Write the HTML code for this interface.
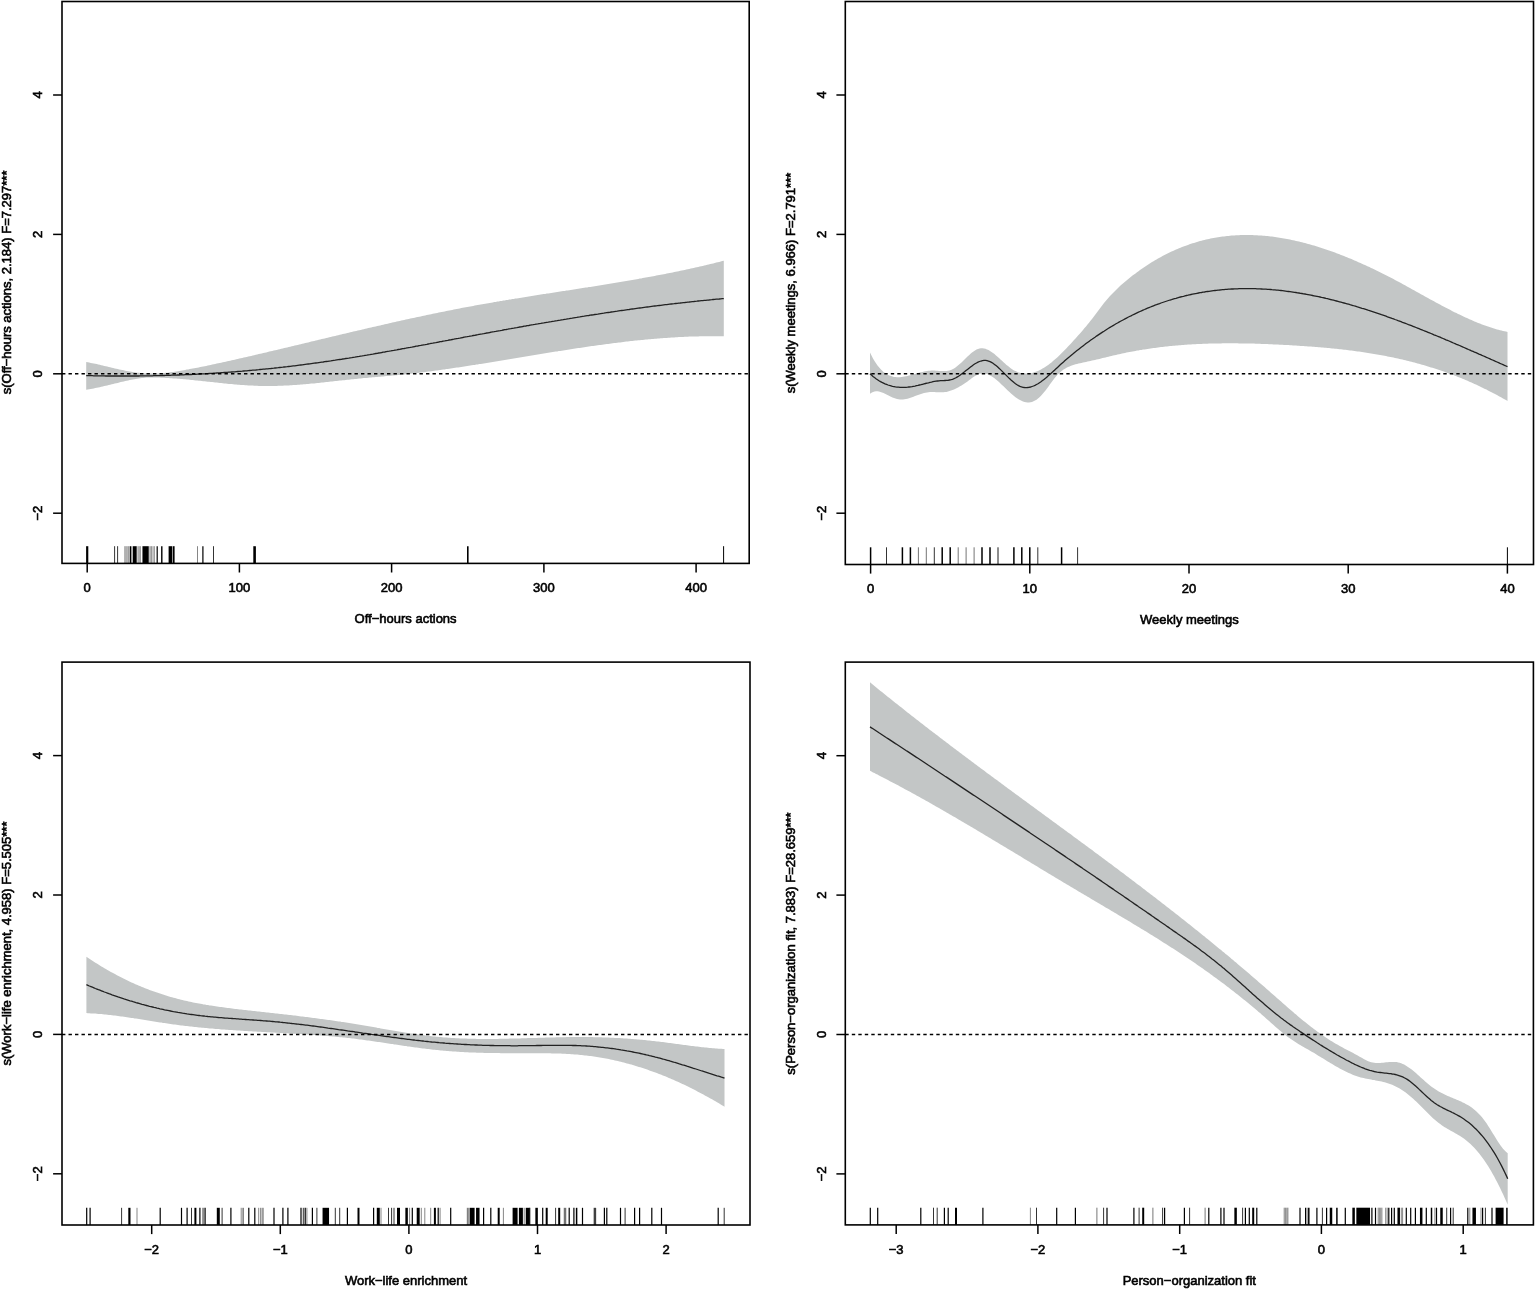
<!DOCTYPE html>
<html lang="en"><head><meta charset="utf-8"><title>GAM smooth plots</title>
<style>html,body{margin:0;padding:0;background:#fff}body{width:1535px;height:1291px;overflow:hidden}svg{display:block}</style></head>
<body>
<svg width="1535" height="1291" viewBox="0 0 1535 1291" font-family="'Liberation Sans', sans-serif" font-size="13.00" fill="#000">
<rect width="1535" height="1291" fill="#fff"/>
<style>text{stroke:#000;stroke-width:0.6px;paint-order:stroke}</style>
<g>
<path d="M86.2 362.0 L87.8 362.3 L89.2 362.6 L90.8 362.9 L92.2 363.2 L93.8 363.5 L95.2 363.8 L96.8 364.1 L98.2 364.5 L99.8 364.8 L101.2 365.2 L102.8 365.5 L104.2 365.9 L105.8 366.2 L107.2 366.6 L108.8 366.9 L110.2 367.3 L111.8 367.7 L113.2 368.0 L114.8 368.4 L116.2 368.7 L117.8 369.0 L119.2 369.4 L120.8 369.7 L122.2 370.0 L123.8 370.3 L125.2 370.7 L126.8 370.9 L128.2 371.2 L129.8 371.5 L131.2 371.8 L132.8 372.0 L134.2 372.2 L135.8 372.5 L137.2 372.7 L138.8 372.8 L140.2 373.0 L141.8 373.2 L143.2 373.3 L144.8 373.4 L146.2 373.5 L147.8 373.6 L149.2 373.6 L150.8 373.6 L152.2 373.6 L153.8 373.6 L155.2 373.6 L156.8 373.5 L158.2 373.4 L159.8 373.4 L161.2 373.2 L162.8 373.1 L164.2 373.0 L165.8 372.8 L167.2 372.7 L168.8 372.5 L170.2 372.3 L171.8 372.1 L173.2 371.9 L174.8 371.7 L176.2 371.4 L177.8 371.2 L179.2 370.9 L180.8 370.7 L182.2 370.4 L183.8 370.2 L185.2 369.9 L186.8 369.6 L188.2 369.4 L189.8 369.1 L191.2 368.8 L192.8 368.5 L194.2 368.2 L195.8 368.0 L197.2 367.7 L198.8 367.4 L200.2 367.1 L201.8 366.8 L203.2 366.5 L204.8 366.2 L206.2 365.9 L207.8 365.6 L209.2 365.2 L210.8 364.9 L212.2 364.6 L213.8 364.3 L215.2 364.0 L216.8 363.6 L218.2 363.3 L219.8 363.0 L221.2 362.7 L222.8 362.3 L224.2 362.0 L225.8 361.7 L227.2 361.3 L228.8 361.0 L230.2 360.7 L231.8 360.3 L233.2 360.0 L234.8 359.7 L236.2 359.3 L237.8 359.0 L239.2 358.6 L240.8 358.3 L242.2 357.9 L243.8 357.6 L245.2 357.2 L246.8 356.9 L248.2 356.6 L249.8 356.2 L251.2 355.9 L252.8 355.5 L254.2 355.2 L255.8 354.8 L257.2 354.5 L258.8 354.1 L260.2 353.8 L261.8 353.4 L263.2 353.1 L264.8 352.7 L266.2 352.4 L267.8 352.0 L269.2 351.6 L270.8 351.3 L272.2 350.9 L273.8 350.6 L275.2 350.2 L276.8 349.9 L278.2 349.5 L279.8 349.2 L281.2 348.8 L282.8 348.4 L284.2 348.1 L285.8 347.7 L287.2 347.4 L288.8 347.0 L290.2 346.7 L291.8 346.3 L293.2 345.9 L294.8 345.6 L296.2 345.2 L297.8 344.9 L299.2 344.5 L300.8 344.2 L302.2 343.8 L303.8 343.4 L305.2 343.1 L306.8 342.7 L308.2 342.4 L309.8 342.0 L311.2 341.6 L312.8 341.3 L314.2 340.9 L315.8 340.6 L317.2 340.2 L318.8 339.8 L320.2 339.5 L321.8 339.1 L323.2 338.8 L324.8 338.4 L326.2 338.1 L327.8 337.7 L329.2 337.3 L330.8 337.0 L332.2 336.6 L333.8 336.3 L335.2 335.9 L336.8 335.5 L338.2 335.2 L339.8 334.8 L341.2 334.5 L342.8 334.1 L344.2 333.8 L345.8 333.4 L347.2 333.1 L348.8 332.7 L350.2 332.3 L351.8 332.0 L353.2 331.6 L354.8 331.3 L356.2 330.9 L357.8 330.6 L359.2 330.2 L360.8 329.9 L362.2 329.5 L363.8 329.2 L365.2 328.8 L366.8 328.5 L368.2 328.1 L369.8 327.8 L371.2 327.4 L372.8 327.1 L374.2 326.7 L375.8 326.4 L377.2 326.1 L378.8 325.7 L380.2 325.4 L381.8 325.0 L383.2 324.7 L384.8 324.3 L386.2 324.0 L387.8 323.7 L389.2 323.3 L390.8 323.0 L392.2 322.6 L393.8 322.3 L395.2 322.0 L396.8 321.6 L398.2 321.3 L399.8 321.0 L401.2 320.6 L402.8 320.3 L404.2 320.0 L405.8 319.6 L407.2 319.3 L408.8 319.0 L410.2 318.6 L411.8 318.3 L413.2 318.0 L414.8 317.7 L416.2 317.3 L417.8 317.0 L419.2 316.7 L420.8 316.4 L422.2 316.1 L423.8 315.7 L425.2 315.4 L426.8 315.1 L428.2 314.8 L429.8 314.5 L431.2 314.2 L432.8 313.8 L434.2 313.5 L435.8 313.2 L437.2 312.9 L438.8 312.6 L440.2 312.3 L441.8 312.0 L443.2 311.7 L444.8 311.4 L446.2 311.1 L447.8 310.8 L449.2 310.5 L450.8 310.2 L452.2 309.9 L453.8 309.6 L455.2 309.3 L456.8 309.0 L458.2 308.7 L459.8 308.4 L461.2 308.1 L462.8 307.8 L464.2 307.6 L465.8 307.3 L467.2 307.0 L468.8 306.7 L470.2 306.4 L471.8 306.2 L473.2 305.9 L474.8 305.6 L476.2 305.3 L477.8 305.1 L479.2 304.8 L480.8 304.5 L482.2 304.2 L483.8 304.0 L485.2 303.7 L486.8 303.4 L488.2 303.2 L489.8 302.9 L491.2 302.7 L492.8 302.4 L494.2 302.1 L495.8 301.9 L497.2 301.6 L498.8 301.4 L500.2 301.1 L501.8 300.9 L503.2 300.6 L504.8 300.4 L506.2 300.1 L507.8 299.9 L509.2 299.6 L510.8 299.4 L512.2 299.1 L513.8 298.9 L515.2 298.6 L516.8 298.4 L518.2 298.2 L519.8 297.9 L521.2 297.7 L522.8 297.4 L524.2 297.2 L525.8 296.9 L527.2 296.7 L528.8 296.5 L530.2 296.2 L531.8 296.0 L533.2 295.8 L534.8 295.5 L536.2 295.3 L537.8 295.1 L539.2 294.8 L540.8 294.6 L542.2 294.3 L543.8 294.1 L545.2 293.9 L546.8 293.6 L548.2 293.4 L549.8 293.2 L551.2 293.0 L552.8 292.7 L554.2 292.5 L555.8 292.3 L557.2 292.0 L558.8 291.8 L560.2 291.6 L561.8 291.3 L563.2 291.1 L564.8 290.9 L566.2 290.6 L567.8 290.4 L569.2 290.2 L570.8 289.9 L572.2 289.7 L573.8 289.5 L575.2 289.2 L576.8 289.0 L578.2 288.8 L579.8 288.5 L581.2 288.3 L582.8 288.1 L584.2 287.8 L585.8 287.6 L587.2 287.4 L588.8 287.1 L590.2 286.9 L591.8 286.7 L593.2 286.4 L594.8 286.2 L596.2 285.9 L597.8 285.7 L599.2 285.5 L600.8 285.2 L602.2 285.0 L603.8 284.7 L605.2 284.5 L606.8 284.2 L608.2 284.0 L609.8 283.8 L611.2 283.5 L612.8 283.3 L614.2 283.0 L615.8 282.8 L617.2 282.5 L618.8 282.3 L620.2 282.0 L621.8 281.8 L623.2 281.5 L624.8 281.3 L626.2 281.0 L627.8 280.7 L629.2 280.5 L630.8 280.2 L632.2 280.0 L633.8 279.7 L635.2 279.4 L636.8 279.2 L638.2 278.9 L639.8 278.6 L641.2 278.4 L642.8 278.1 L644.2 277.8 L645.8 277.6 L647.2 277.3 L648.8 277.0 L650.2 276.7 L651.8 276.5 L653.2 276.2 L654.8 275.9 L656.2 275.6 L657.8 275.3 L659.2 275.0 L660.8 274.8 L662.2 274.5 L663.8 274.2 L665.2 273.9 L666.8 273.6 L668.2 273.3 L669.8 273.0 L671.2 272.7 L672.8 272.4 L674.2 272.1 L675.8 271.8 L677.2 271.5 L678.8 271.2 L680.2 270.8 L681.8 270.5 L683.2 270.2 L684.8 269.9 L686.2 269.6 L687.8 269.2 L689.2 268.9 L690.8 268.6 L692.2 268.3 L693.8 267.9 L695.2 267.6 L696.8 267.3 L698.2 266.9 L699.8 266.6 L701.2 266.2 L702.8 265.9 L704.2 265.5 L705.8 265.2 L707.2 264.8 L708.8 264.5 L710.2 264.1 L711.8 263.7 L713.2 263.4 L714.8 263.0 L716.2 262.6 L717.8 262.3 L719.2 261.9 L720.8 261.5 L722.2 261.1 L723.8 260.8 L723.8 336.3 L722.2 336.3 L720.8 336.2 L719.2 336.2 L717.8 336.2 L716.2 336.2 L714.8 336.2 L713.2 336.2 L711.8 336.2 L710.2 336.2 L708.8 336.2 L707.2 336.2 L705.8 336.2 L704.2 336.2 L702.8 336.3 L701.2 336.3 L699.8 336.3 L698.2 336.4 L696.8 336.4 L695.2 336.4 L693.8 336.5 L692.2 336.5 L690.8 336.6 L689.2 336.6 L687.8 336.7 L686.2 336.8 L684.8 336.8 L683.2 336.9 L681.8 337.0 L680.2 337.0 L678.8 337.1 L677.2 337.2 L675.8 337.3 L674.2 337.4 L672.8 337.5 L671.2 337.6 L669.8 337.7 L668.2 337.8 L666.8 337.9 L665.2 338.0 L663.8 338.1 L662.2 338.2 L660.8 338.3 L659.2 338.4 L657.8 338.5 L656.2 338.7 L654.8 338.8 L653.2 338.9 L651.8 339.0 L650.2 339.2 L648.8 339.3 L647.2 339.4 L645.8 339.6 L644.2 339.7 L642.8 339.9 L641.2 340.0 L639.8 340.2 L638.2 340.3 L636.8 340.5 L635.2 340.6 L633.8 340.8 L632.2 341.0 L630.8 341.1 L629.2 341.3 L627.8 341.5 L626.2 341.6 L624.8 341.8 L623.2 342.0 L621.8 342.2 L620.2 342.4 L618.8 342.5 L617.2 342.7 L615.8 342.9 L614.2 343.1 L612.8 343.3 L611.2 343.5 L609.8 343.7 L608.2 343.9 L606.8 344.1 L605.2 344.3 L603.8 344.5 L602.2 344.7 L600.8 344.9 L599.2 345.1 L597.8 345.3 L596.2 345.5 L594.8 345.7 L593.2 345.9 L591.8 346.1 L590.2 346.3 L588.8 346.6 L587.2 346.8 L585.8 347.0 L584.2 347.2 L582.8 347.4 L581.2 347.7 L579.8 347.9 L578.2 348.1 L576.8 348.3 L575.2 348.6 L573.8 348.8 L572.2 349.0 L570.8 349.2 L569.2 349.5 L567.8 349.7 L566.2 349.9 L564.8 350.2 L563.2 350.4 L561.8 350.7 L560.2 350.9 L558.8 351.1 L557.2 351.4 L555.8 351.6 L554.2 351.8 L552.8 352.1 L551.2 352.3 L549.8 352.6 L548.2 352.8 L546.8 353.1 L545.2 353.3 L543.8 353.5 L542.2 353.8 L540.8 354.0 L539.2 354.3 L537.8 354.5 L536.2 354.8 L534.8 355.0 L533.2 355.3 L531.8 355.5 L530.2 355.8 L528.8 356.0 L527.2 356.3 L525.8 356.5 L524.2 356.8 L522.8 357.0 L521.2 357.3 L519.8 357.5 L518.2 357.8 L516.8 358.0 L515.2 358.3 L513.8 358.5 L512.2 358.8 L510.8 359.0 L509.2 359.3 L507.8 359.5 L506.2 359.7 L504.8 360.0 L503.2 360.2 L501.8 360.5 L500.2 360.7 L498.8 361.0 L497.2 361.2 L495.8 361.5 L494.2 361.7 L492.8 362.0 L491.2 362.2 L489.8 362.5 L488.2 362.7 L486.8 362.9 L485.2 363.2 L483.8 363.4 L482.2 363.7 L480.8 363.9 L479.2 364.1 L477.8 364.4 L476.2 364.6 L474.8 364.9 L473.2 365.1 L471.8 365.3 L470.2 365.6 L468.8 365.8 L467.2 366.0 L465.8 366.3 L464.2 366.5 L462.8 366.7 L461.2 366.9 L459.8 367.2 L458.2 367.4 L456.8 367.6 L455.2 367.8 L453.8 368.1 L452.2 368.3 L450.8 368.5 L449.2 368.7 L447.8 368.9 L446.2 369.1 L444.8 369.4 L443.2 369.6 L441.8 369.8 L440.2 370.0 L438.8 370.2 L437.2 370.4 L435.8 370.6 L434.2 370.8 L432.8 371.0 L431.2 371.2 L429.8 371.4 L428.2 371.6 L426.8 371.8 L425.2 372.0 L423.8 372.2 L422.2 372.3 L420.8 372.5 L419.2 372.7 L417.8 372.9 L416.2 373.1 L414.8 373.2 L413.2 373.4 L411.8 373.6 L410.2 373.8 L408.8 373.9 L407.2 374.1 L405.8 374.2 L404.2 374.4 L402.8 374.6 L401.2 374.7 L399.8 374.9 L398.2 375.0 L396.8 375.2 L395.2 375.3 L393.8 375.4 L392.2 375.6 L390.8 375.7 L389.2 375.9 L387.8 376.0 L386.2 376.1 L384.8 376.3 L383.2 376.4 L381.8 376.5 L380.2 376.7 L378.8 376.8 L377.2 376.9 L375.8 377.0 L374.2 377.2 L372.8 377.3 L371.2 377.4 L369.8 377.6 L368.2 377.7 L366.8 377.9 L365.2 378.0 L363.8 378.1 L362.2 378.3 L360.8 378.4 L359.2 378.6 L357.8 378.7 L356.2 378.9 L354.8 379.0 L353.2 379.2 L351.8 379.3 L350.2 379.5 L348.8 379.7 L347.2 379.8 L345.8 380.0 L344.2 380.2 L342.8 380.3 L341.2 380.5 L339.8 380.6 L338.2 380.8 L336.8 381.0 L335.2 381.1 L333.8 381.3 L332.2 381.5 L330.8 381.6 L329.2 381.8 L327.8 382.0 L326.2 382.1 L324.8 382.3 L323.2 382.4 L321.8 382.6 L320.2 382.8 L318.8 382.9 L317.2 383.1 L315.8 383.2 L314.2 383.4 L312.8 383.5 L311.2 383.6 L309.8 383.8 L308.2 383.9 L306.8 384.1 L305.2 384.2 L303.8 384.3 L302.2 384.4 L300.8 384.6 L299.2 384.7 L297.8 384.8 L296.2 384.9 L294.8 385.0 L293.2 385.1 L291.8 385.2 L290.2 385.3 L288.8 385.4 L287.2 385.5 L285.8 385.5 L284.2 385.6 L282.8 385.7 L281.2 385.7 L279.8 385.8 L278.2 385.8 L276.8 385.9 L275.2 385.9 L273.8 385.9 L272.2 386.0 L270.8 386.0 L269.2 386.0 L267.8 386.0 L266.2 386.0 L264.8 386.0 L263.2 386.0 L261.8 385.9 L260.2 385.9 L258.8 385.9 L257.2 385.8 L255.8 385.8 L254.2 385.7 L252.8 385.6 L251.2 385.6 L249.8 385.5 L248.2 385.4 L246.8 385.3 L245.2 385.2 L243.8 385.1 L242.2 385.0 L240.8 384.9 L239.2 384.8 L237.8 384.7 L236.2 384.5 L234.8 384.4 L233.2 384.3 L231.8 384.1 L230.2 384.0 L228.8 383.9 L227.2 383.7 L225.8 383.6 L224.2 383.4 L222.8 383.3 L221.2 383.1 L219.8 382.9 L218.2 382.8 L216.8 382.6 L215.2 382.5 L213.8 382.3 L212.2 382.1 L210.8 382.0 L209.2 381.8 L207.8 381.7 L206.2 381.5 L204.8 381.3 L203.2 381.2 L201.8 381.0 L200.2 380.8 L198.8 380.7 L197.2 380.5 L195.8 380.4 L194.2 380.2 L192.8 380.1 L191.2 379.9 L189.8 379.8 L188.2 379.6 L186.8 379.5 L185.2 379.3 L183.8 379.2 L182.2 379.1 L180.8 378.9 L179.2 378.8 L177.8 378.7 L176.2 378.6 L174.8 378.5 L173.2 378.4 L171.8 378.2 L170.2 378.2 L168.8 378.1 L167.2 378.0 L165.8 377.9 L164.2 377.8 L162.8 377.8 L161.2 377.7 L159.8 377.6 L158.2 377.6 L156.8 377.5 L155.2 377.5 L153.8 377.5 L152.2 377.5 L150.8 377.5 L149.2 377.5 L147.8 377.5 L146.2 377.6 L144.8 377.7 L143.2 377.9 L141.8 378.0 L140.2 378.2 L138.8 378.4 L137.2 378.7 L135.8 378.9 L134.2 379.2 L132.8 379.5 L131.2 379.8 L129.8 380.1 L128.2 380.4 L126.8 380.8 L125.2 381.1 L123.8 381.4 L122.2 381.8 L120.8 382.1 L119.2 382.5 L117.8 382.9 L116.2 383.2 L114.8 383.6 L113.2 384.0 L111.8 384.3 L110.2 384.7 L108.8 385.1 L107.2 385.4 L105.8 385.8 L104.2 386.1 L102.8 386.5 L101.2 386.8 L99.8 387.2 L98.2 387.5 L96.8 387.8 L95.2 388.1 L93.8 388.4 L92.2 388.7 L90.8 389.0 L89.2 389.3 L87.8 389.6 L86.2 389.8Z" fill="#c3c6c6" stroke="none"/>
<path d="M86.2 375.6 L87.8 375.6 L89.2 375.7 L90.8 375.7 L92.2 375.7 L93.8 375.8 L95.2 375.8 L96.8 375.8 L98.2 375.9 L99.8 375.9 L101.2 375.9 L102.8 375.9 L104.2 375.9 L105.8 376.0 L107.2 376.0 L108.8 376.0 L110.2 376.0 L111.8 376.0 L113.2 376.0 L114.8 376.0 L116.2 376.0 L117.8 376.0 L119.2 376.0 L120.8 376.0 L122.2 376.0 L123.8 376.0 L125.2 376.0 L126.8 376.0 L128.2 376.0 L129.8 376.0 L131.2 376.0 L132.8 376.0 L134.2 376.0 L135.8 376.0 L137.2 376.0 L138.8 376.0 L140.2 375.9 L141.8 375.9 L143.2 375.9 L144.8 375.9 L146.2 375.9 L147.8 375.8 L149.2 375.8 L150.8 375.8 L152.2 375.8 L153.8 375.7 L155.2 375.7 L156.8 375.7 L158.2 375.6 L159.8 375.6 L161.2 375.6 L162.8 375.5 L164.2 375.5 L165.8 375.4 L167.2 375.4 L168.8 375.3 L170.2 375.3 L171.8 375.2 L173.2 375.2 L174.8 375.1 L176.2 375.1 L177.8 375.0 L179.2 375.0 L180.8 374.9 L182.2 374.9 L183.8 374.8 L185.2 374.7 L186.8 374.7 L188.2 374.6 L189.8 374.5 L191.2 374.5 L192.8 374.4 L194.2 374.3 L195.8 374.3 L197.2 374.2 L198.8 374.1 L200.2 374.0 L201.8 373.9 L203.2 373.9 L204.8 373.8 L206.2 373.7 L207.8 373.6 L209.2 373.5 L210.8 373.4 L212.2 373.3 L213.8 373.2 L215.2 373.1 L216.8 373.0 L218.2 372.9 L219.8 372.8 L221.2 372.7 L222.8 372.6 L224.2 372.5 L225.8 372.4 L227.2 372.3 L228.8 372.2 L230.2 372.1 L231.8 372.0 L233.2 371.9 L234.8 371.8 L236.2 371.6 L237.8 371.5 L239.2 371.4 L240.8 371.3 L242.2 371.2 L243.8 371.0 L245.2 370.9 L246.8 370.8 L248.2 370.6 L249.8 370.5 L251.2 370.4 L252.8 370.2 L254.2 370.1 L255.8 370.0 L257.2 369.8 L258.8 369.7 L260.2 369.5 L261.8 369.4 L263.2 369.2 L264.8 369.1 L266.2 368.9 L267.8 368.8 L269.2 368.6 L270.8 368.5 L272.2 368.3 L273.8 368.2 L275.2 368.0 L276.8 367.8 L278.2 367.7 L279.8 367.5 L281.2 367.3 L282.8 367.2 L284.2 367.0 L285.8 366.8 L287.2 366.7 L288.8 366.5 L290.2 366.3 L291.8 366.1 L293.2 365.9 L294.8 365.8 L296.2 365.6 L297.8 365.4 L299.2 365.2 L300.8 365.0 L302.2 364.8 L303.8 364.6 L305.2 364.4 L306.8 364.2 L308.2 364.0 L309.8 363.8 L311.2 363.6 L312.8 363.4 L314.2 363.2 L315.8 363.0 L317.2 362.8 L318.8 362.6 L320.2 362.4 L321.8 362.2 L323.2 362.0 L324.8 361.7 L326.2 361.5 L327.8 361.3 L329.2 361.1 L330.8 360.9 L332.2 360.6 L333.8 360.4 L335.2 360.2 L336.8 359.9 L338.2 359.7 L339.8 359.5 L341.2 359.3 L342.8 359.0 L344.2 358.8 L345.8 358.5 L347.2 358.3 L348.8 358.1 L350.2 357.8 L351.8 357.6 L353.2 357.3 L354.8 357.1 L356.2 356.8 L357.8 356.6 L359.2 356.4 L360.8 356.1 L362.2 355.9 L363.8 355.6 L365.2 355.3 L366.8 355.1 L368.2 354.8 L369.8 354.6 L371.2 354.3 L372.8 354.1 L374.2 353.8 L375.8 353.5 L377.2 353.3 L378.8 353.0 L380.2 352.8 L381.8 352.5 L383.2 352.2 L384.8 352.0 L386.2 351.7 L387.8 351.4 L389.2 351.2 L390.8 350.9 L392.2 350.6 L393.8 350.4 L395.2 350.1 L396.8 349.8 L398.2 349.5 L399.8 349.3 L401.2 349.0 L402.8 348.7 L404.2 348.5 L405.8 348.2 L407.2 347.9 L408.8 347.6 L410.2 347.4 L411.8 347.1 L413.2 346.8 L414.8 346.5 L416.2 346.2 L417.8 346.0 L419.2 345.7 L420.8 345.4 L422.2 345.1 L423.8 344.8 L425.2 344.6 L426.8 344.3 L428.2 344.0 L429.8 343.7 L431.2 343.4 L432.8 343.2 L434.2 342.9 L435.8 342.6 L437.2 342.3 L438.8 342.0 L440.2 341.7 L441.8 341.5 L443.2 341.2 L444.8 340.9 L446.2 340.6 L447.8 340.3 L449.2 340.0 L450.8 339.8 L452.2 339.5 L453.8 339.2 L455.2 338.9 L456.8 338.6 L458.2 338.4 L459.8 338.1 L461.2 337.8 L462.8 337.5 L464.2 337.2 L465.8 336.9 L467.2 336.7 L468.8 336.4 L470.2 336.1 L471.8 335.8 L473.2 335.5 L474.8 335.3 L476.2 335.0 L477.8 334.7 L479.2 334.4 L480.8 334.1 L482.2 333.9 L483.8 333.6 L485.2 333.3 L486.8 333.0 L488.2 332.8 L489.8 332.5 L491.2 332.2 L492.8 331.9 L494.2 331.7 L495.8 331.4 L497.2 331.1 L498.8 330.8 L500.2 330.6 L501.8 330.3 L503.2 330.0 L504.8 329.7 L506.2 329.5 L507.8 329.2 L509.2 328.9 L510.8 328.7 L512.2 328.4 L513.8 328.1 L515.2 327.8 L516.8 327.6 L518.2 327.3 L519.8 327.0 L521.2 326.8 L522.8 326.5 L524.2 326.2 L525.8 326.0 L527.2 325.7 L528.8 325.5 L530.2 325.2 L531.8 324.9 L533.2 324.7 L534.8 324.4 L536.2 324.1 L537.8 323.9 L539.2 323.6 L540.8 323.4 L542.2 323.1 L543.8 322.9 L545.2 322.6 L546.8 322.3 L548.2 322.1 L549.8 321.8 L551.2 321.6 L552.8 321.3 L554.2 321.1 L555.8 320.8 L557.2 320.6 L558.8 320.3 L560.2 320.1 L561.8 319.8 L563.2 319.6 L564.8 319.3 L566.2 319.1 L567.8 318.8 L569.2 318.6 L570.8 318.3 L572.2 318.1 L573.8 317.8 L575.2 317.6 L576.8 317.4 L578.2 317.1 L579.8 316.9 L581.2 316.6 L582.8 316.4 L584.2 316.2 L585.8 315.9 L587.2 315.7 L588.8 315.5 L590.2 315.2 L591.8 315.0 L593.2 314.8 L594.8 314.5 L596.2 314.3 L597.8 314.1 L599.2 313.8 L600.8 313.6 L602.2 313.4 L603.8 313.2 L605.2 312.9 L606.8 312.7 L608.2 312.5 L609.8 312.3 L611.2 312.0 L612.8 311.8 L614.2 311.6 L615.8 311.4 L617.2 311.2 L618.8 310.9 L620.2 310.7 L621.8 310.5 L623.2 310.3 L624.8 310.1 L626.2 309.9 L627.8 309.7 L629.2 309.5 L630.8 309.2 L632.2 309.0 L633.8 308.8 L635.2 308.6 L636.8 308.4 L638.2 308.2 L639.8 308.0 L641.2 307.8 L642.8 307.6 L644.2 307.4 L645.8 307.2 L647.2 307.0 L648.8 306.8 L650.2 306.6 L651.8 306.4 L653.2 306.2 L654.8 306.0 L656.2 305.9 L657.8 305.7 L659.2 305.5 L660.8 305.3 L662.2 305.1 L663.8 304.9 L665.2 304.7 L666.8 304.6 L668.2 304.4 L669.8 304.2 L671.2 304.0 L672.8 303.8 L674.2 303.7 L675.8 303.5 L677.2 303.3 L678.8 303.1 L680.2 303.0 L681.8 302.8 L683.2 302.6 L684.8 302.5 L686.2 302.3 L687.8 302.1 L689.2 302.0 L690.8 301.8 L692.2 301.6 L693.8 301.5 L695.2 301.3 L696.8 301.2 L698.2 301.0 L699.8 300.9 L701.2 300.7 L702.8 300.6 L704.2 300.4 L705.8 300.3 L707.2 300.1 L708.8 300.0 L710.2 299.8 L711.8 299.7 L713.2 299.5 L714.8 299.4 L716.2 299.2 L717.8 299.1 L719.2 299.0 L720.8 298.8 L722.2 298.7 L723.8 298.6" fill="none" stroke="#222" stroke-width="1.3"/>
<line x1="62.0" y1="373.8" x2="749.2" y2="373.8" stroke="#000" stroke-width="1.5" stroke-dasharray="3.4 3.1"/>
<line x1="87.2" y1="546.2" x2="87.2" y2="563.4" stroke="#000" stroke-width="2.20" stroke-opacity="1.00"/>
<line x1="114.6" y1="546.2" x2="114.6" y2="563.4" stroke="#000" stroke-width="0.80" stroke-opacity="1.00"/>
<line x1="117.6" y1="546.2" x2="117.6" y2="563.4" stroke="#000" stroke-width="0.80" stroke-opacity="1.00"/>
<line x1="124.8" y1="546.2" x2="124.8" y2="563.4" stroke="#000" stroke-width="0.70" stroke-opacity="0.60"/>
<line x1="126.0" y1="546.2" x2="126.0" y2="563.4" stroke="#000" stroke-width="0.70" stroke-opacity="0.60"/>
<line x1="127.2" y1="546.2" x2="127.2" y2="563.4" stroke="#000" stroke-width="0.70" stroke-opacity="0.60"/>
<line x1="128.6" y1="546.2" x2="128.6" y2="563.4" stroke="#000" stroke-width="0.70" stroke-opacity="0.60"/>
<line x1="129.8" y1="546.2" x2="129.8" y2="563.4" stroke="#000" stroke-width="0.70" stroke-opacity="0.60"/>
<line x1="130.7" y1="546.2" x2="130.7" y2="563.4" stroke="#000" stroke-width="1.40" stroke-opacity="1.00"/>
<line x1="134.7" y1="546.2" x2="134.7" y2="563.4" stroke="#000" stroke-width="4.00" stroke-opacity="1.00"/>
<line x1="138.0" y1="546.2" x2="138.0" y2="563.4" stroke="#000" stroke-width="0.70" stroke-opacity="0.60"/>
<line x1="139.2" y1="546.2" x2="139.2" y2="563.4" stroke="#000" stroke-width="0.70" stroke-opacity="0.60"/>
<line x1="140.4" y1="546.2" x2="140.4" y2="563.4" stroke="#000" stroke-width="0.70" stroke-opacity="0.60"/>
<line x1="145.6" y1="546.2" x2="145.6" y2="563.4" stroke="#000" stroke-width="6.30" stroke-opacity="1.00"/>
<line x1="149.9" y1="546.2" x2="149.9" y2="563.4" stroke="#000" stroke-width="0.70" stroke-opacity="0.60"/>
<line x1="151.1" y1="546.2" x2="151.1" y2="563.4" stroke="#000" stroke-width="0.70" stroke-opacity="0.60"/>
<line x1="152.0" y1="546.2" x2="152.0" y2="563.4" stroke="#000" stroke-width="0.70" stroke-opacity="0.60"/>
<line x1="154.1" y1="546.2" x2="154.1" y2="563.4" stroke="#000" stroke-width="0.80" stroke-opacity="0.80"/>
<line x1="157.2" y1="546.2" x2="157.2" y2="563.4" stroke="#000" stroke-width="1.20" stroke-opacity="1.00"/>
<line x1="161.8" y1="546.2" x2="161.8" y2="563.4" stroke="#000" stroke-width="1.40" stroke-opacity="1.00"/>
<line x1="170.3" y1="546.2" x2="170.3" y2="563.4" stroke="#000" stroke-width="3.40" stroke-opacity="1.00"/>
<line x1="173.6" y1="546.2" x2="173.6" y2="563.4" stroke="#000" stroke-width="2.00" stroke-opacity="1.00"/>
<line x1="197.5" y1="546.2" x2="197.5" y2="563.4" stroke="#000" stroke-width="0.80" stroke-opacity="0.60"/>
<line x1="202.9" y1="546.2" x2="202.9" y2="563.4" stroke="#000" stroke-width="1.20" stroke-opacity="1.00"/>
<line x1="213.5" y1="546.2" x2="213.5" y2="563.4" stroke="#000" stroke-width="0.80" stroke-opacity="1.00"/>
<line x1="254.6" y1="546.2" x2="254.6" y2="563.4" stroke="#000" stroke-width="2.60" stroke-opacity="1.00"/>
<line x1="467.8" y1="546.2" x2="467.8" y2="563.4" stroke="#000" stroke-width="1.60" stroke-opacity="1.00"/>
<line x1="723.6" y1="546.2" x2="723.6" y2="563.4" stroke="#000" stroke-width="1.00" stroke-opacity="1.00"/>
<rect x="62.0" y="1.5" width="687.2" height="561.9" fill="none" stroke="#000" stroke-width="1.6"/>
<line x1="53.1" y1="95.0" x2="62.0" y2="95.0" stroke="#000" stroke-width="1.5"/>
<text transform="translate(42.2 95.0) rotate(-90)" text-anchor="middle">4</text>
<line x1="53.1" y1="234.4" x2="62.0" y2="234.4" stroke="#000" stroke-width="1.5"/>
<text transform="translate(42.2 234.4) rotate(-90)" text-anchor="middle">2</text>
<line x1="53.1" y1="373.8" x2="62.0" y2="373.8" stroke="#000" stroke-width="1.5"/>
<text transform="translate(42.2 373.8) rotate(-90)" text-anchor="middle">0</text>
<line x1="53.1" y1="513.2" x2="62.0" y2="513.2" stroke="#000" stroke-width="1.5"/>
<text transform="translate(42.2 513.2) rotate(-90)" text-anchor="middle">−2</text>
<line x1="87.2" y1="563.4" x2="87.2" y2="572.5" stroke="#000" stroke-width="1.5"/>
<text x="87.2" y="592.1" text-anchor="middle">0</text>
<line x1="239.4" y1="563.4" x2="239.4" y2="572.5" stroke="#000" stroke-width="1.5"/>
<text x="239.4" y="592.1" text-anchor="middle">100</text>
<line x1="391.6" y1="563.4" x2="391.6" y2="572.5" stroke="#000" stroke-width="1.5"/>
<text x="391.6" y="592.1" text-anchor="middle">200</text>
<line x1="543.9" y1="563.4" x2="543.9" y2="572.5" stroke="#000" stroke-width="1.5"/>
<text x="543.9" y="592.1" text-anchor="middle">300</text>
<line x1="696.1" y1="563.4" x2="696.1" y2="572.5" stroke="#000" stroke-width="1.5"/>
<text x="696.1" y="592.1" text-anchor="middle">400</text>
<text x="405.6" y="623.1" text-anchor="middle">Off−hours actions</text>
<text transform="translate(11.3 282.4) rotate(-90)" text-anchor="middle">s(Off−hours actions, 2.184) F=7.297***</text>
</g>
<g>
<path d="M870.0 352.5 L871.5 355.6 L873.0 358.4 L874.5 360.9 L876.0 363.3 L877.5 365.4 L879.0 367.3 L880.5 369.0 L882.0 370.5 L883.5 371.9 L885.0 373.0 L886.5 374.0 L888.0 374.9 L889.5 375.6 L891.0 376.1 L892.5 376.6 L894.0 376.9 L895.5 377.1 L897.0 377.2 L898.5 377.2 L900.0 377.2 L901.5 377.0 L903.0 376.8 L904.5 376.6 L906.0 376.3 L907.5 375.9 L909.0 375.6 L910.5 375.2 L912.0 374.7 L913.5 374.3 L915.0 373.9 L916.5 373.5 L918.0 373.0 L919.5 372.6 L921.0 372.3 L922.5 371.9 L924.0 371.6 L925.5 371.3 L927.0 371.0 L928.5 370.8 L930.0 370.7 L931.5 370.6 L933.0 370.5 L934.5 370.6 L936.0 370.7 L937.5 370.8 L939.0 370.9 L940.5 371.0 L942.0 371.1 L943.5 371.1 L945.0 371.1 L946.5 371.0 L948.0 370.8 L949.5 370.4 L951.0 369.9 L952.5 369.3 L954.0 368.4 L955.5 367.4 L957.0 366.3 L958.5 365.1 L960.0 363.8 L961.5 362.4 L963.0 360.9 L964.5 359.5 L966.0 358.0 L967.5 356.6 L969.0 355.2 L970.5 353.8 L972.0 352.6 L973.5 351.5 L975.0 350.5 L976.5 349.6 L978.0 349.0 L979.5 348.5 L981.0 348.3 L982.5 348.3 L984.0 348.4 L985.5 348.8 L987.0 349.4 L988.5 350.1 L990.0 350.9 L991.5 351.9 L993.0 353.0 L994.5 354.1 L996.0 355.4 L997.5 356.7 L999.0 358.0 L1000.5 359.4 L1002.0 360.8 L1003.5 362.2 L1005.0 363.5 L1006.5 364.9 L1008.0 366.1 L1009.5 367.3 L1011.0 368.4 L1012.5 369.5 L1014.0 370.4 L1015.5 371.1 L1017.0 371.8 L1018.5 372.4 L1020.0 372.8 L1021.5 373.2 L1023.0 373.4 L1024.5 373.6 L1026.0 373.6 L1027.5 373.6 L1029.0 373.5 L1030.5 373.3 L1032.0 373.0 L1033.5 372.6 L1035.0 372.1 L1036.5 371.6 L1038.0 370.9 L1039.5 370.2 L1041.0 369.5 L1042.5 368.6 L1044.0 367.7 L1045.5 366.8 L1047.0 365.8 L1048.5 364.7 L1050.0 363.5 L1051.5 362.4 L1053.0 361.1 L1054.5 359.8 L1056.0 358.5 L1057.5 357.2 L1059.0 355.7 L1060.5 354.3 L1062.0 352.8 L1063.5 351.3 L1065.0 349.8 L1066.5 348.2 L1068.0 346.6 L1069.5 345.0 L1071.0 343.4 L1072.5 341.8 L1074.0 340.1 L1075.5 338.4 L1077.0 336.8 L1078.5 335.1 L1080.0 333.4 L1081.5 331.7 L1083.0 329.9 L1084.5 328.1 L1086.0 326.4 L1087.5 324.5 L1089.0 322.7 L1090.5 320.8 L1092.0 318.9 L1093.5 317.0 L1095.0 315.0 L1096.5 312.9 L1098.0 310.9 L1099.5 308.9 L1101.0 306.9 L1102.5 304.9 L1104.0 303.1 L1105.5 301.2 L1107.0 299.5 L1108.5 297.8 L1110.0 296.1 L1111.5 294.5 L1113.0 292.9 L1114.5 291.4 L1116.0 289.9 L1117.5 288.4 L1119.0 287.0 L1120.5 285.6 L1122.0 284.3 L1123.5 283.0 L1125.0 281.7 L1126.5 280.4 L1128.0 279.2 L1129.5 278.0 L1131.0 276.8 L1132.5 275.6 L1134.0 274.5 L1135.5 273.4 L1137.0 272.3 L1138.5 271.2 L1140.0 270.1 L1141.5 269.0 L1143.0 268.0 L1144.5 267.0 L1146.0 266.0 L1147.5 265.0 L1149.0 264.0 L1150.5 263.1 L1152.0 262.1 L1153.5 261.2 L1155.0 260.3 L1156.5 259.4 L1158.0 258.6 L1159.5 257.7 L1161.0 256.9 L1162.5 256.1 L1164.0 255.3 L1165.5 254.5 L1167.0 253.8 L1168.5 253.0 L1170.0 252.3 L1171.5 251.6 L1173.0 250.9 L1174.5 250.2 L1176.0 249.6 L1177.5 248.9 L1179.0 248.3 L1180.5 247.7 L1182.0 247.1 L1183.5 246.5 L1185.0 245.9 L1186.5 245.4 L1188.0 244.9 L1189.5 244.3 L1191.0 243.8 L1192.5 243.3 L1194.0 242.9 L1195.5 242.4 L1197.0 242.0 L1198.5 241.5 L1200.0 241.1 L1201.5 240.7 L1203.0 240.3 L1204.5 240.0 L1206.0 239.6 L1207.5 239.3 L1209.0 238.9 L1210.5 238.6 L1212.0 238.3 L1213.5 238.0 L1215.0 237.8 L1216.5 237.5 L1218.0 237.2 L1219.5 237.0 L1221.0 236.8 L1222.5 236.6 L1224.0 236.4 L1225.5 236.2 L1227.0 236.1 L1228.5 235.9 L1230.0 235.8 L1231.5 235.6 L1233.0 235.5 L1234.5 235.4 L1236.0 235.3 L1237.5 235.2 L1239.0 235.2 L1240.5 235.1 L1242.0 235.1 L1243.5 235.1 L1245.0 235.0 L1246.5 235.0 L1248.0 235.0 L1249.5 235.1 L1251.0 235.1 L1252.5 235.1 L1254.0 235.2 L1255.5 235.2 L1257.0 235.3 L1258.5 235.4 L1260.0 235.5 L1261.5 235.6 L1263.0 235.7 L1264.5 235.8 L1266.0 236.0 L1267.5 236.1 L1269.0 236.3 L1270.5 236.5 L1272.0 236.6 L1273.5 236.8 L1275.0 237.0 L1276.5 237.2 L1278.0 237.5 L1279.5 237.7 L1281.0 237.9 L1282.5 238.2 L1284.0 238.5 L1285.5 238.7 L1287.0 239.0 L1288.5 239.3 L1290.0 239.6 L1291.5 239.9 L1293.0 240.2 L1294.5 240.5 L1296.0 240.9 L1297.5 241.2 L1299.0 241.6 L1300.5 241.9 L1302.0 242.3 L1303.5 242.7 L1305.0 243.1 L1306.5 243.5 L1308.0 243.9 L1309.5 244.3 L1311.0 244.7 L1312.5 245.2 L1314.0 245.6 L1315.5 246.0 L1317.0 246.5 L1318.5 247.0 L1320.0 247.4 L1321.5 247.9 L1323.0 248.4 L1324.5 248.9 L1326.0 249.4 L1327.5 249.9 L1329.0 250.4 L1330.5 251.0 L1332.0 251.5 L1333.5 252.1 L1335.0 252.6 L1336.5 253.2 L1338.0 253.7 L1339.5 254.3 L1341.0 254.9 L1342.5 255.5 L1344.0 256.1 L1345.5 256.7 L1347.0 257.3 L1348.5 257.9 L1350.0 258.5 L1351.5 259.1 L1353.0 259.8 L1354.5 260.4 L1356.0 261.0 L1357.5 261.7 L1359.0 262.4 L1360.5 263.0 L1362.0 263.7 L1363.5 264.4 L1365.0 265.1 L1366.5 265.8 L1368.0 266.4 L1369.5 267.1 L1371.0 267.9 L1372.5 268.6 L1374.0 269.3 L1375.5 270.0 L1377.0 270.7 L1378.5 271.5 L1380.0 272.2 L1381.5 273.0 L1383.0 273.7 L1384.5 274.5 L1386.0 275.2 L1387.5 276.0 L1389.0 276.8 L1390.5 277.5 L1392.0 278.3 L1393.5 279.1 L1395.0 279.9 L1396.5 280.7 L1398.0 281.5 L1399.5 282.3 L1401.0 283.1 L1402.5 283.9 L1404.0 284.7 L1405.5 285.6 L1407.0 286.4 L1408.5 287.2 L1410.0 288.0 L1411.5 288.9 L1413.0 289.7 L1414.5 290.5 L1416.0 291.4 L1417.5 292.2 L1419.0 293.0 L1420.5 293.9 L1422.0 294.7 L1423.5 295.5 L1425.0 296.4 L1426.5 297.2 L1428.0 298.0 L1429.5 298.9 L1431.0 299.7 L1432.5 300.5 L1434.0 301.3 L1435.5 302.2 L1437.0 303.0 L1438.5 303.8 L1440.0 304.6 L1441.5 305.4 L1443.0 306.2 L1444.5 307.0 L1446.0 307.8 L1447.5 308.6 L1449.0 309.3 L1450.5 310.1 L1452.0 310.9 L1453.5 311.7 L1455.0 312.4 L1456.5 313.1 L1458.0 313.9 L1459.5 314.6 L1461.0 315.3 L1462.5 316.1 L1464.0 316.8 L1465.5 317.5 L1467.0 318.1 L1468.5 318.8 L1470.0 319.5 L1471.5 320.1 L1473.0 320.8 L1474.5 321.4 L1476.0 322.0 L1477.5 322.7 L1479.0 323.3 L1480.5 323.8 L1482.0 324.4 L1483.5 325.0 L1485.0 325.5 L1486.5 326.1 L1488.0 326.6 L1489.5 327.1 L1491.0 327.6 L1492.5 328.1 L1494.0 328.5 L1495.5 329.0 L1497.0 329.4 L1498.5 329.8 L1500.0 330.2 L1501.5 330.6 L1503.0 331.0 L1504.5 331.3 L1506.0 331.6 L1507.5 331.9 L1507.5 401.0 L1506.0 400.1 L1504.5 399.3 L1503.0 398.4 L1501.5 397.6 L1500.0 396.7 L1498.5 395.9 L1497.0 395.1 L1495.5 394.3 L1494.0 393.5 L1492.5 392.7 L1491.0 391.9 L1489.5 391.2 L1488.0 390.4 L1486.5 389.6 L1485.0 388.9 L1483.5 388.2 L1482.0 387.4 L1480.5 386.7 L1479.0 386.0 L1477.5 385.3 L1476.0 384.6 L1474.5 383.9 L1473.0 383.2 L1471.5 382.6 L1470.0 381.9 L1468.5 381.2 L1467.0 380.6 L1465.5 380.0 L1464.0 379.3 L1462.5 378.7 L1461.0 378.1 L1459.5 377.5 L1458.0 376.9 L1456.5 376.3 L1455.0 375.7 L1453.5 375.1 L1452.0 374.6 L1450.5 374.0 L1449.0 373.5 L1447.5 372.9 L1446.0 372.4 L1444.5 371.8 L1443.0 371.3 L1441.5 370.8 L1440.0 370.3 L1438.5 369.8 L1437.0 369.3 L1435.5 368.8 L1434.0 368.3 L1432.5 367.8 L1431.0 367.4 L1429.5 366.9 L1428.0 366.4 L1426.5 366.0 L1425.0 365.5 L1423.5 365.1 L1422.0 364.7 L1420.5 364.3 L1419.0 363.8 L1417.5 363.4 L1416.0 363.0 L1414.5 362.6 L1413.0 362.2 L1411.5 361.8 L1410.0 361.5 L1408.5 361.1 L1407.0 360.7 L1405.5 360.3 L1404.0 360.0 L1402.5 359.6 L1401.0 359.3 L1399.5 358.9 L1398.0 358.6 L1396.5 358.3 L1395.0 357.9 L1393.5 357.6 L1392.0 357.3 L1390.5 357.0 L1389.0 356.7 L1387.5 356.4 L1386.0 356.1 L1384.5 355.8 L1383.0 355.5 L1381.5 355.2 L1380.0 355.0 L1378.5 354.7 L1377.0 354.4 L1375.5 354.2 L1374.0 353.9 L1372.5 353.7 L1371.0 353.4 L1369.5 353.2 L1368.0 352.9 L1366.5 352.7 L1365.0 352.5 L1363.5 352.2 L1362.0 352.0 L1360.5 351.8 L1359.0 351.6 L1357.5 351.4 L1356.0 351.2 L1354.5 351.0 L1353.0 350.8 L1351.5 350.6 L1350.0 350.4 L1348.5 350.2 L1347.0 350.0 L1345.5 349.8 L1344.0 349.7 L1342.5 349.5 L1341.0 349.3 L1339.5 349.2 L1338.0 349.0 L1336.5 348.8 L1335.0 348.7 L1333.5 348.5 L1332.0 348.4 L1330.5 348.2 L1329.0 348.1 L1327.5 348.0 L1326.0 347.8 L1324.5 347.7 L1323.0 347.5 L1321.5 347.4 L1320.0 347.3 L1318.5 347.2 L1317.0 347.0 L1315.5 346.9 L1314.0 346.8 L1312.5 346.7 L1311.0 346.6 L1309.5 346.5 L1308.0 346.4 L1306.5 346.3 L1305.0 346.2 L1303.5 346.1 L1302.0 346.0 L1300.5 345.9 L1299.0 345.8 L1297.5 345.7 L1296.0 345.6 L1294.5 345.5 L1293.0 345.4 L1291.5 345.3 L1290.0 345.2 L1288.5 345.1 L1287.0 345.1 L1285.5 345.0 L1284.0 344.9 L1282.5 344.8 L1281.0 344.7 L1279.5 344.7 L1278.0 344.6 L1276.5 344.5 L1275.0 344.4 L1273.5 344.4 L1272.0 344.3 L1270.5 344.2 L1269.0 344.2 L1267.5 344.1 L1266.0 344.1 L1264.5 344.0 L1263.0 343.9 L1261.5 343.9 L1260.0 343.8 L1258.5 343.8 L1257.0 343.7 L1255.5 343.7 L1254.0 343.6 L1252.5 343.6 L1251.0 343.6 L1249.5 343.5 L1248.0 343.5 L1246.5 343.5 L1245.0 343.4 L1243.5 343.4 L1242.0 343.4 L1240.5 343.4 L1239.0 343.4 L1237.5 343.3 L1236.0 343.3 L1234.5 343.3 L1233.0 343.3 L1231.5 343.3 L1230.0 343.3 L1228.5 343.3 L1227.0 343.3 L1225.5 343.3 L1224.0 343.3 L1222.5 343.3 L1221.0 343.4 L1219.5 343.4 L1218.0 343.4 L1216.5 343.4 L1215.0 343.5 L1213.5 343.5 L1212.0 343.5 L1210.5 343.6 L1209.0 343.6 L1207.5 343.7 L1206.0 343.7 L1204.5 343.8 L1203.0 343.8 L1201.5 343.9 L1200.0 344.0 L1198.5 344.0 L1197.0 344.1 L1195.5 344.2 L1194.0 344.3 L1192.5 344.3 L1191.0 344.4 L1189.5 344.5 L1188.0 344.6 L1186.5 344.7 L1185.0 344.8 L1183.5 344.9 L1182.0 345.1 L1180.5 345.2 L1179.0 345.3 L1177.5 345.4 L1176.0 345.5 L1174.5 345.7 L1173.0 345.8 L1171.5 346.0 L1170.0 346.1 L1168.5 346.3 L1167.0 346.4 L1165.5 346.6 L1164.0 346.8 L1162.5 346.9 L1161.0 347.1 L1159.5 347.3 L1158.0 347.5 L1156.5 347.7 L1155.0 347.9 L1153.5 348.1 L1152.0 348.3 L1150.5 348.5 L1149.0 348.7 L1147.5 348.9 L1146.0 349.2 L1144.5 349.4 L1143.0 349.6 L1141.5 349.9 L1140.0 350.1 L1138.5 350.4 L1137.0 350.6 L1135.5 350.9 L1134.0 351.2 L1132.5 351.5 L1131.0 351.7 L1129.5 352.0 L1128.0 352.3 L1126.5 352.6 L1125.0 352.9 L1123.5 353.2 L1122.0 353.6 L1120.5 353.9 L1119.0 354.2 L1117.5 354.6 L1116.0 354.9 L1114.5 355.2 L1113.0 355.6 L1111.5 355.9 L1110.0 356.3 L1108.5 356.7 L1107.0 357.0 L1105.5 357.4 L1104.0 357.8 L1102.5 358.1 L1101.0 358.5 L1099.5 358.9 L1098.0 359.2 L1096.5 359.6 L1095.0 359.9 L1093.5 360.3 L1092.0 360.6 L1090.5 361.0 L1089.0 361.3 L1087.5 361.6 L1086.0 361.9 L1084.5 362.2 L1083.0 362.6 L1081.5 362.9 L1080.0 363.2 L1078.5 363.5 L1077.0 363.9 L1075.5 364.3 L1074.0 364.7 L1072.5 365.2 L1071.0 365.7 L1069.5 366.4 L1068.0 367.0 L1066.5 367.8 L1065.0 368.7 L1063.5 369.6 L1062.0 370.7 L1060.5 371.9 L1059.0 373.2 L1057.5 374.8 L1056.0 376.4 L1054.5 378.3 L1053.0 380.2 L1051.5 382.2 L1050.0 384.3 L1048.5 386.4 L1047.0 388.4 L1045.5 390.4 L1044.0 392.3 L1042.5 394.1 L1041.0 395.8 L1039.5 397.3 L1038.0 398.6 L1036.5 399.7 L1035.0 400.6 L1033.5 401.3 L1032.0 401.9 L1030.5 402.2 L1029.0 402.4 L1027.5 402.4 L1026.0 402.2 L1024.5 401.9 L1023.0 401.4 L1021.5 400.8 L1020.0 400.1 L1018.5 399.2 L1017.0 398.3 L1015.5 397.2 L1014.0 396.0 L1012.5 394.8 L1011.0 393.5 L1009.5 392.1 L1008.0 390.7 L1006.5 389.3 L1005.0 387.8 L1003.5 386.3 L1002.0 384.9 L1000.5 383.5 L999.0 382.1 L997.5 380.7 L996.0 379.5 L994.5 378.3 L993.0 377.2 L991.5 376.2 L990.0 375.4 L988.5 374.6 L987.0 374.0 L985.5 373.6 L984.0 373.4 L982.5 373.3 L981.0 373.5 L979.5 373.8 L978.0 374.4 L976.5 375.2 L975.0 376.1 L973.5 377.1 L972.0 378.1 L970.5 379.2 L969.0 380.3 L967.5 381.4 L966.0 382.4 L964.5 383.5 L963.0 384.5 L961.5 385.4 L960.0 386.3 L958.5 387.2 L957.0 388.0 L955.5 388.7 L954.0 389.4 L952.5 390.1 L951.0 390.6 L949.5 391.1 L948.0 391.5 L946.5 391.9 L945.0 392.1 L943.5 392.2 L942.0 392.3 L940.5 392.3 L939.0 392.3 L937.5 392.3 L936.0 392.2 L934.5 392.1 L933.0 392.1 L931.5 392.1 L930.0 392.1 L928.5 392.2 L927.0 392.4 L925.5 392.7 L924.0 393.0 L922.5 393.5 L921.0 393.9 L919.5 394.5 L918.0 395.0 L916.5 395.6 L915.0 396.1 L913.5 396.7 L912.0 397.3 L910.5 397.8 L909.0 398.2 L907.5 398.7 L906.0 399.0 L904.5 399.3 L903.0 399.4 L901.5 399.5 L900.0 399.4 L898.5 399.2 L897.0 398.9 L895.5 398.5 L894.0 398.0 L892.5 397.4 L891.0 396.7 L889.5 396.0 L888.0 395.3 L886.5 394.5 L885.0 393.8 L883.5 393.1 L882.0 392.4 L880.5 391.9 L879.0 391.5 L877.5 391.3 L876.0 391.3 L874.5 391.5 L873.0 391.9 L871.5 392.7 L870.0 393.7Z" fill="#c3c6c6" stroke="none"/>
<path d="M870.0 373.7 L871.5 375.1 L873.0 376.4 L874.5 377.6 L876.0 378.7 L877.5 379.7 L879.0 380.7 L880.5 381.6 L882.0 382.4 L883.5 383.1 L885.0 383.8 L886.5 384.4 L888.0 385.0 L889.5 385.5 L891.0 385.9 L892.5 386.3 L894.0 386.6 L895.5 386.9 L897.0 387.1 L898.5 387.2 L900.0 387.3 L901.5 387.4 L903.0 387.4 L904.5 387.4 L906.0 387.3 L907.5 387.2 L909.0 387.0 L910.5 386.8 L912.0 386.6 L913.5 386.3 L915.0 386.1 L916.5 385.7 L918.0 385.4 L919.5 385.0 L921.0 384.7 L922.5 384.3 L924.0 383.9 L925.5 383.5 L927.0 383.1 L928.5 382.8 L930.0 382.4 L931.5 382.1 L933.0 381.7 L934.5 381.4 L936.0 381.2 L937.5 381.0 L939.0 380.8 L940.5 380.7 L942.0 380.6 L943.5 380.6 L945.0 380.5 L946.5 380.4 L948.0 380.3 L949.5 380.0 L951.0 379.7 L952.5 379.3 L954.0 378.7 L955.5 378.0 L957.0 377.1 L958.5 376.2 L960.0 375.2 L961.5 374.1 L963.0 372.9 L964.5 371.8 L966.0 370.6 L967.5 369.4 L969.0 368.2 L970.5 367.0 L972.0 365.9 L973.5 364.8 L975.0 363.8 L976.5 363.0 L978.0 362.2 L979.5 361.5 L981.0 361.0 L982.5 360.6 L984.0 360.4 L985.5 360.4 L987.0 360.7 L988.5 361.1 L990.0 361.7 L991.5 362.4 L993.0 363.3 L994.5 364.4 L996.0 365.6 L997.5 366.8 L999.0 368.2 L1000.5 369.6 L1002.0 371.1 L1003.5 372.6 L1005.0 374.1 L1006.5 375.6 L1008.0 377.1 L1009.5 378.6 L1011.0 380.0 L1012.5 381.3 L1014.0 382.6 L1015.5 383.7 L1017.0 384.7 L1018.5 385.6 L1020.0 386.3 L1021.5 386.9 L1023.0 387.3 L1024.5 387.5 L1026.0 387.6 L1027.5 387.5 L1029.0 387.3 L1030.5 387.0 L1032.0 386.5 L1033.5 386.0 L1035.0 385.3 L1036.5 384.5 L1038.0 383.7 L1039.5 382.7 L1041.0 381.7 L1042.5 380.6 L1044.0 379.4 L1045.5 378.2 L1047.0 376.9 L1048.5 375.6 L1050.0 374.3 L1051.5 372.9 L1053.0 371.6 L1054.5 370.2 L1056.0 368.8 L1057.5 367.4 L1059.0 366.0 L1060.5 364.6 L1062.0 363.3 L1063.5 362.0 L1065.0 360.6 L1066.5 359.3 L1068.0 358.0 L1069.5 356.8 L1071.0 355.5 L1072.5 354.3 L1074.0 353.0 L1075.5 351.8 L1077.0 350.6 L1078.5 349.4 L1080.0 348.2 L1081.5 347.1 L1083.0 345.9 L1084.5 344.8 L1086.0 343.6 L1087.5 342.5 L1089.0 341.4 L1090.5 340.3 L1092.0 339.3 L1093.5 338.2 L1095.0 337.2 L1096.5 336.1 L1098.0 335.1 L1099.5 334.1 L1101.0 333.1 L1102.5 332.1 L1104.0 331.2 L1105.5 330.2 L1107.0 329.2 L1108.5 328.3 L1110.0 327.4 L1111.5 326.5 L1113.0 325.6 L1114.5 324.7 L1116.0 323.8 L1117.5 323.0 L1119.0 322.1 L1120.5 321.3 L1122.0 320.5 L1123.5 319.7 L1125.0 318.9 L1126.5 318.1 L1128.0 317.3 L1129.5 316.5 L1131.0 315.8 L1132.5 315.0 L1134.0 314.3 L1135.5 313.6 L1137.0 312.9 L1138.5 312.2 L1140.0 311.5 L1141.5 310.8 L1143.0 310.1 L1144.5 309.5 L1146.0 308.8 L1147.5 308.2 L1149.0 307.6 L1150.5 307.0 L1152.0 306.4 L1153.5 305.8 L1155.0 305.2 L1156.5 304.7 L1158.0 304.1 L1159.5 303.6 L1161.0 303.0 L1162.5 302.5 L1164.0 302.0 L1165.5 301.5 L1167.0 301.0 L1168.5 300.5 L1170.0 300.0 L1171.5 299.6 L1173.0 299.1 L1174.5 298.7 L1176.0 298.3 L1177.5 297.8 L1179.0 297.4 L1180.5 297.0 L1182.0 296.6 L1183.5 296.3 L1185.0 295.9 L1186.5 295.5 L1188.0 295.2 L1189.5 294.8 L1191.0 294.5 L1192.5 294.2 L1194.0 293.9 L1195.5 293.6 L1197.0 293.3 L1198.5 293.0 L1200.0 292.7 L1201.5 292.5 L1203.0 292.2 L1204.5 292.0 L1206.0 291.7 L1207.5 291.5 L1209.0 291.3 L1210.5 291.1 L1212.0 290.9 L1213.5 290.7 L1215.0 290.5 L1216.5 290.3 L1218.0 290.1 L1219.5 290.0 L1221.0 289.8 L1222.5 289.7 L1224.0 289.6 L1225.5 289.4 L1227.0 289.3 L1228.5 289.2 L1230.0 289.1 L1231.5 289.0 L1233.0 289.0 L1234.5 288.9 L1236.0 288.8 L1237.5 288.8 L1239.0 288.7 L1240.5 288.7 L1242.0 288.7 L1243.5 288.6 L1245.0 288.6 L1246.5 288.6 L1248.0 288.6 L1249.5 288.6 L1251.0 288.6 L1252.5 288.7 L1254.0 288.7 L1255.5 288.7 L1257.0 288.8 L1258.5 288.8 L1260.0 288.9 L1261.5 289.0 L1263.0 289.1 L1264.5 289.1 L1266.0 289.2 L1267.5 289.3 L1269.0 289.4 L1270.5 289.5 L1272.0 289.7 L1273.5 289.8 L1275.0 289.9 L1276.5 290.1 L1278.0 290.2 L1279.5 290.4 L1281.0 290.5 L1282.5 290.7 L1284.0 290.9 L1285.5 291.1 L1287.0 291.3 L1288.5 291.5 L1290.0 291.7 L1291.5 291.9 L1293.0 292.1 L1294.5 292.3 L1296.0 292.5 L1297.5 292.8 L1299.0 293.0 L1300.5 293.3 L1302.0 293.5 L1303.5 293.8 L1305.0 294.0 L1306.5 294.3 L1308.0 294.6 L1309.5 294.9 L1311.0 295.2 L1312.5 295.5 L1314.0 295.8 L1315.5 296.1 L1317.0 296.4 L1318.5 296.7 L1320.0 297.0 L1321.5 297.4 L1323.0 297.7 L1324.5 298.0 L1326.0 298.4 L1327.5 298.7 L1329.0 299.1 L1330.5 299.5 L1332.0 299.8 L1333.5 300.2 L1335.0 300.6 L1336.5 301.0 L1338.0 301.4 L1339.5 301.8 L1341.0 302.2 L1342.5 302.6 L1344.0 303.0 L1345.5 303.4 L1347.0 303.8 L1348.5 304.2 L1350.0 304.7 L1351.5 305.1 L1353.0 305.5 L1354.5 306.0 L1356.0 306.4 L1357.5 306.9 L1359.0 307.3 L1360.5 307.8 L1362.0 308.3 L1363.5 308.7 L1365.0 309.2 L1366.5 309.7 L1368.0 310.2 L1369.5 310.6 L1371.0 311.1 L1372.5 311.6 L1374.0 312.1 L1375.5 312.6 L1377.0 313.1 L1378.5 313.6 L1380.0 314.1 L1381.5 314.7 L1383.0 315.2 L1384.5 315.7 L1386.0 316.2 L1387.5 316.8 L1389.0 317.3 L1390.5 317.8 L1392.0 318.4 L1393.5 318.9 L1395.0 319.5 L1396.5 320.0 L1398.0 320.6 L1399.5 321.1 L1401.0 321.7 L1402.5 322.3 L1404.0 322.8 L1405.5 323.4 L1407.0 324.0 L1408.5 324.6 L1410.0 325.1 L1411.5 325.7 L1413.0 326.3 L1414.5 326.9 L1416.0 327.5 L1417.5 328.1 L1419.0 328.7 L1420.5 329.3 L1422.0 329.9 L1423.5 330.5 L1425.0 331.1 L1426.5 331.7 L1428.0 332.3 L1429.5 332.9 L1431.0 333.5 L1432.5 334.1 L1434.0 334.8 L1435.5 335.4 L1437.0 336.0 L1438.5 336.6 L1440.0 337.2 L1441.5 337.9 L1443.0 338.5 L1444.5 339.1 L1446.0 339.8 L1447.5 340.4 L1449.0 341.0 L1450.5 341.7 L1452.0 342.3 L1453.5 343.0 L1455.0 343.6 L1456.5 344.3 L1458.0 344.9 L1459.5 345.5 L1461.0 346.2 L1462.5 346.8 L1464.0 347.5 L1465.5 348.2 L1467.0 348.8 L1468.5 349.5 L1470.0 350.1 L1471.5 350.8 L1473.0 351.4 L1474.5 352.1 L1476.0 352.7 L1477.5 353.4 L1479.0 354.1 L1480.5 354.7 L1482.0 355.4 L1483.5 356.0 L1485.0 356.7 L1486.5 357.4 L1488.0 358.0 L1489.5 358.7 L1491.0 359.4 L1492.5 360.0 L1494.0 360.7 L1495.5 361.4 L1497.0 362.0 L1498.5 362.7 L1500.0 363.4 L1501.5 364.0 L1503.0 364.7 L1504.5 365.4 L1506.0 366.0 L1507.5 366.7" fill="none" stroke="#222" stroke-width="1.3"/>
<line x1="845.3" y1="373.8" x2="1533.5" y2="373.8" stroke="#000" stroke-width="1.5" stroke-dasharray="3.4 3.1"/>
<line x1="870.6" y1="547.3" x2="870.6" y2="564.5" stroke="#000" stroke-width="1.50" stroke-opacity="1.00"/>
<line x1="886.5" y1="547.3" x2="886.5" y2="564.5" stroke="#000" stroke-width="0.80" stroke-opacity="1.00"/>
<line x1="902.4" y1="547.3" x2="902.4" y2="564.5" stroke="#000" stroke-width="1.50" stroke-opacity="1.00"/>
<line x1="910.4" y1="547.3" x2="910.4" y2="564.5" stroke="#000" stroke-width="1.50" stroke-opacity="1.00"/>
<line x1="918.4" y1="547.3" x2="918.4" y2="564.5" stroke="#000" stroke-width="1.00" stroke-opacity="0.55"/>
<line x1="926.3" y1="547.3" x2="926.3" y2="564.5" stroke="#000" stroke-width="1.00" stroke-opacity="0.55"/>
<line x1="934.3" y1="547.3" x2="934.3" y2="564.5" stroke="#000" stroke-width="0.90" stroke-opacity="0.90"/>
<line x1="942.2" y1="547.3" x2="942.2" y2="564.5" stroke="#000" stroke-width="1.50" stroke-opacity="1.00"/>
<line x1="950.2" y1="547.3" x2="950.2" y2="564.5" stroke="#000" stroke-width="1.50" stroke-opacity="1.00"/>
<line x1="958.2" y1="547.3" x2="958.2" y2="564.5" stroke="#000" stroke-width="1.00" stroke-opacity="0.55"/>
<line x1="966.1" y1="547.3" x2="966.1" y2="564.5" stroke="#000" stroke-width="1.00" stroke-opacity="0.55"/>
<line x1="974.1" y1="547.3" x2="974.1" y2="564.5" stroke="#000" stroke-width="1.00" stroke-opacity="0.55"/>
<line x1="982.0" y1="547.3" x2="982.0" y2="564.5" stroke="#000" stroke-width="1.50" stroke-opacity="1.00"/>
<line x1="990.0" y1="547.3" x2="990.0" y2="564.5" stroke="#000" stroke-width="1.50" stroke-opacity="1.00"/>
<line x1="998.0" y1="547.3" x2="998.0" y2="564.5" stroke="#000" stroke-width="0.90" stroke-opacity="1.00"/>
<line x1="1013.9" y1="547.3" x2="1013.9" y2="564.5" stroke="#000" stroke-width="1.50" stroke-opacity="1.00"/>
<line x1="1021.8" y1="547.3" x2="1021.8" y2="564.5" stroke="#000" stroke-width="1.50" stroke-opacity="1.00"/>
<line x1="1029.8" y1="547.3" x2="1029.8" y2="564.5" stroke="#000" stroke-width="1.50" stroke-opacity="1.00"/>
<line x1="1037.8" y1="547.3" x2="1037.8" y2="564.5" stroke="#000" stroke-width="0.80" stroke-opacity="1.00"/>
<line x1="1061.6" y1="547.3" x2="1061.6" y2="564.5" stroke="#000" stroke-width="1.50" stroke-opacity="1.00"/>
<line x1="1077.6" y1="547.3" x2="1077.6" y2="564.5" stroke="#000" stroke-width="0.80" stroke-opacity="1.00"/>
<line x1="1507.4" y1="547.3" x2="1507.4" y2="564.5" stroke="#000" stroke-width="1.00" stroke-opacity="1.00"/>
<rect x="845.3" y="1.5" width="688.2" height="563.0" fill="none" stroke="#000" stroke-width="1.6"/>
<line x1="836.4" y1="95.0" x2="845.3" y2="95.0" stroke="#000" stroke-width="1.5"/>
<text transform="translate(825.5 95.0) rotate(-90)" text-anchor="middle">4</text>
<line x1="836.4" y1="234.4" x2="845.3" y2="234.4" stroke="#000" stroke-width="1.5"/>
<text transform="translate(825.5 234.4) rotate(-90)" text-anchor="middle">2</text>
<line x1="836.4" y1="373.8" x2="845.3" y2="373.8" stroke="#000" stroke-width="1.5"/>
<text transform="translate(825.5 373.8) rotate(-90)" text-anchor="middle">0</text>
<line x1="836.4" y1="513.2" x2="845.3" y2="513.2" stroke="#000" stroke-width="1.5"/>
<text transform="translate(825.5 513.2) rotate(-90)" text-anchor="middle">−2</text>
<line x1="870.6" y1="564.5" x2="870.6" y2="573.6" stroke="#000" stroke-width="1.5"/>
<text x="870.6" y="593.2" text-anchor="middle">0</text>
<line x1="1029.8" y1="564.5" x2="1029.8" y2="573.6" stroke="#000" stroke-width="1.5"/>
<text x="1029.8" y="593.2" text-anchor="middle">10</text>
<line x1="1189.0" y1="564.5" x2="1189.0" y2="573.6" stroke="#000" stroke-width="1.5"/>
<text x="1189.0" y="593.2" text-anchor="middle">20</text>
<line x1="1348.2" y1="564.5" x2="1348.2" y2="573.6" stroke="#000" stroke-width="1.5"/>
<text x="1348.2" y="593.2" text-anchor="middle">30</text>
<line x1="1507.4" y1="564.5" x2="1507.4" y2="573.6" stroke="#000" stroke-width="1.5"/>
<text x="1507.4" y="593.2" text-anchor="middle">40</text>
<text x="1189.4" y="624.2" text-anchor="middle">Weekly meetings</text>
<text transform="translate(794.6 283.0) rotate(-90)" text-anchor="middle">s(Weekly meetings, 6.966) F=2.791***</text>
</g>
<g>
<path d="M86.4 956.8 L87.9 957.8 L89.4 958.8 L90.9 959.8 L92.4 960.8 L93.9 961.7 L95.4 962.7 L96.9 963.6 L98.4 964.6 L99.9 965.5 L101.4 966.4 L102.9 967.3 L104.4 968.2 L105.9 969.1 L107.4 970.0 L108.9 970.8 L110.4 971.7 L112.0 972.5 L113.5 973.3 L115.0 974.1 L116.5 974.9 L118.0 975.7 L119.5 976.5 L121.0 977.3 L122.5 978.0 L124.0 978.8 L125.5 979.5 L127.0 980.3 L128.5 981.0 L130.0 981.7 L131.5 982.4 L133.0 983.1 L134.5 983.7 L136.0 984.4 L137.5 985.0 L139.0 985.7 L140.5 986.3 L142.0 986.9 L143.5 987.6 L145.0 988.2 L146.5 988.7 L148.0 989.3 L149.5 989.9 L151.0 990.5 L152.5 991.0 L154.0 991.6 L155.5 992.1 L157.0 992.6 L158.5 993.1 L160.0 993.6 L161.5 994.1 L163.0 994.6 L164.5 995.1 L166.0 995.5 L167.5 996.0 L169.0 996.4 L170.5 996.9 L172.0 997.3 L173.5 997.7 L175.0 998.1 L176.5 998.5 L178.0 998.9 L179.5 999.3 L181.0 999.7 L182.5 1000.0 L184.0 1000.4 L185.5 1000.7 L187.0 1001.1 L188.5 1001.4 L190.0 1001.7 L191.5 1002.1 L193.0 1002.4 L194.5 1002.7 L196.0 1003.0 L197.5 1003.3 L199.0 1003.5 L200.5 1003.8 L202.0 1004.1 L203.5 1004.4 L205.0 1004.6 L206.5 1004.9 L208.0 1005.1 L209.5 1005.4 L211.0 1005.6 L212.5 1005.8 L214.0 1006.1 L215.5 1006.3 L217.0 1006.5 L218.5 1006.7 L220.0 1006.9 L221.5 1007.1 L223.0 1007.3 L224.5 1007.5 L226.0 1007.7 L227.5 1007.9 L229.0 1008.1 L230.6 1008.3 L232.1 1008.5 L233.6 1008.7 L235.1 1008.9 L236.6 1009.0 L238.1 1009.2 L239.6 1009.4 L241.1 1009.6 L242.6 1009.7 L244.1 1009.9 L245.6 1010.1 L247.1 1010.2 L248.6 1010.4 L250.1 1010.6 L251.6 1010.7 L253.1 1010.9 L254.6 1011.1 L256.1 1011.2 L257.6 1011.4 L259.1 1011.6 L260.6 1011.7 L262.1 1011.9 L263.6 1012.0 L265.1 1012.2 L266.6 1012.4 L268.1 1012.5 L269.6 1012.7 L271.1 1012.9 L272.6 1013.0 L274.1 1013.2 L275.6 1013.4 L277.1 1013.6 L278.6 1013.7 L280.1 1013.9 L281.6 1014.1 L283.1 1014.2 L284.6 1014.4 L286.1 1014.6 L287.6 1014.8 L289.1 1014.9 L290.6 1015.1 L292.1 1015.3 L293.6 1015.5 L295.1 1015.6 L296.6 1015.8 L298.1 1016.0 L299.6 1016.2 L301.1 1016.4 L302.6 1016.6 L304.1 1016.7 L305.6 1016.9 L307.1 1017.1 L308.6 1017.3 L310.1 1017.5 L311.6 1017.7 L313.1 1017.9 L314.6 1018.1 L316.1 1018.3 L317.6 1018.5 L319.1 1018.7 L320.6 1018.9 L322.1 1019.1 L323.6 1019.3 L325.1 1019.5 L326.6 1019.7 L328.1 1019.9 L329.6 1020.1 L331.1 1020.3 L332.6 1020.5 L334.1 1020.8 L335.6 1021.0 L337.1 1021.2 L338.6 1021.4 L340.1 1021.6 L341.6 1021.9 L343.1 1022.1 L344.6 1022.3 L346.1 1022.6 L347.6 1022.8 L349.1 1023.0 L350.7 1023.3 L352.2 1023.5 L353.7 1023.8 L355.2 1024.0 L356.7 1024.2 L358.2 1024.5 L359.7 1024.7 L361.2 1025.0 L362.7 1025.3 L364.2 1025.5 L365.7 1025.8 L367.2 1026.0 L368.7 1026.3 L370.2 1026.6 L371.7 1026.8 L373.2 1027.1 L374.7 1027.3 L376.2 1027.6 L377.7 1027.9 L379.2 1028.1 L380.7 1028.4 L382.2 1028.7 L383.7 1028.9 L385.2 1029.2 L386.7 1029.4 L388.2 1029.7 L389.7 1030.0 L391.2 1030.2 L392.7 1030.5 L394.2 1030.7 L395.7 1031.0 L397.2 1031.2 L398.7 1031.5 L400.2 1031.7 L401.7 1032.0 L403.2 1032.2 L404.7 1032.5 L406.2 1032.7 L407.7 1032.9 L409.2 1033.2 L410.7 1033.4 L412.2 1033.6 L413.7 1033.8 L415.2 1034.1 L416.7 1034.3 L418.2 1034.5 L419.7 1034.7 L421.2 1034.9 L422.7 1035.1 L424.2 1035.3 L425.7 1035.5 L427.2 1035.7 L428.7 1035.8 L430.2 1036.0 L431.7 1036.2 L433.2 1036.4 L434.7 1036.5 L436.2 1036.7 L437.7 1036.8 L439.2 1037.0 L440.7 1037.1 L442.2 1037.2 L443.7 1037.4 L445.2 1037.5 L446.7 1037.6 L448.2 1037.7 L449.7 1037.8 L451.2 1037.9 L452.7 1038.0 L454.2 1038.1 L455.7 1038.2 L457.2 1038.2 L458.7 1038.3 L460.2 1038.4 L461.7 1038.4 L463.2 1038.5 L464.7 1038.6 L466.2 1038.6 L467.7 1038.7 L469.2 1038.7 L470.8 1038.7 L472.3 1038.8 L473.8 1038.8 L475.3 1038.8 L476.8 1038.9 L478.3 1038.9 L479.8 1038.9 L481.3 1038.9 L482.8 1038.9 L484.3 1038.9 L485.8 1038.9 L487.3 1038.9 L488.8 1038.9 L490.3 1038.9 L491.8 1038.9 L493.3 1038.9 L494.8 1038.9 L496.3 1038.9 L497.8 1038.9 L499.3 1038.8 L500.8 1038.8 L502.3 1038.8 L503.8 1038.8 L505.3 1038.7 L506.8 1038.7 L508.3 1038.7 L509.8 1038.6 L511.3 1038.6 L512.8 1038.6 L514.3 1038.5 L515.8 1038.5 L517.3 1038.4 L518.8 1038.4 L520.3 1038.4 L521.8 1038.3 L523.3 1038.3 L524.8 1038.2 L526.3 1038.2 L527.8 1038.1 L529.3 1038.1 L530.8 1038.1 L532.3 1038.0 L533.8 1038.0 L535.3 1037.9 L536.8 1037.9 L538.3 1037.8 L539.8 1037.8 L541.3 1037.7 L542.8 1037.7 L544.3 1037.7 L545.8 1037.6 L547.3 1037.6 L548.8 1037.5 L550.3 1037.5 L551.8 1037.4 L553.3 1037.4 L554.8 1037.4 L556.3 1037.3 L557.8 1037.3 L559.3 1037.3 L560.8 1037.2 L562.3 1037.2 L563.8 1037.2 L565.3 1037.2 L566.8 1037.1 L568.3 1037.1 L569.8 1037.1 L571.3 1037.1 L572.8 1037.1 L574.3 1037.0 L575.8 1037.0 L577.3 1037.0 L578.8 1037.0 L580.3 1037.0 L581.8 1037.0 L583.3 1037.0 L584.8 1037.0 L586.3 1037.1 L587.8 1037.1 L589.4 1037.1 L590.9 1037.1 L592.4 1037.1 L593.9 1037.2 L595.4 1037.2 L596.9 1037.2 L598.4 1037.3 L599.9 1037.3 L601.4 1037.3 L602.9 1037.4 L604.4 1037.4 L605.9 1037.5 L607.4 1037.5 L608.9 1037.6 L610.4 1037.7 L611.9 1037.7 L613.4 1037.8 L614.9 1037.9 L616.4 1038.0 L617.9 1038.0 L619.4 1038.1 L620.9 1038.2 L622.4 1038.3 L623.9 1038.4 L625.4 1038.5 L626.9 1038.6 L628.4 1038.7 L629.9 1038.8 L631.4 1038.9 L632.9 1039.0 L634.4 1039.2 L635.9 1039.3 L637.4 1039.4 L638.9 1039.5 L640.4 1039.7 L641.9 1039.8 L643.4 1040.0 L644.9 1040.1 L646.4 1040.3 L647.9 1040.4 L649.4 1040.6 L650.9 1040.7 L652.4 1040.9 L653.9 1041.1 L655.4 1041.2 L656.9 1041.4 L658.4 1041.6 L659.9 1041.8 L661.4 1042.0 L662.9 1042.1 L664.4 1042.3 L665.9 1042.5 L667.4 1042.7 L668.9 1042.9 L670.4 1043.1 L671.9 1043.3 L673.4 1043.5 L674.9 1043.7 L676.4 1043.9 L677.9 1044.1 L679.4 1044.3 L680.9 1044.5 L682.4 1044.7 L683.9 1044.9 L685.4 1045.1 L686.9 1045.3 L688.4 1045.5 L689.9 1045.7 L691.4 1045.9 L692.9 1046.1 L694.4 1046.3 L695.9 1046.5 L697.4 1046.6 L698.9 1046.8 L700.4 1047.0 L701.9 1047.2 L703.4 1047.3 L704.9 1047.5 L706.4 1047.6 L707.9 1047.8 L709.5 1047.9 L711.0 1048.1 L712.5 1048.2 L714.0 1048.3 L715.5 1048.4 L717.0 1048.6 L718.5 1048.7 L720.0 1048.8 L721.5 1048.8 L723.0 1048.9 L724.5 1049.0 L724.5 1106.8 L723.0 1105.8 L721.5 1104.9 L720.0 1104.0 L718.5 1103.1 L717.0 1102.2 L715.5 1101.3 L714.0 1100.5 L712.5 1099.6 L711.0 1098.7 L709.5 1097.9 L707.9 1097.1 L706.4 1096.2 L704.9 1095.4 L703.4 1094.6 L701.9 1093.8 L700.4 1093.0 L698.9 1092.2 L697.4 1091.4 L695.9 1090.6 L694.4 1089.8 L692.9 1089.0 L691.4 1088.3 L689.9 1087.5 L688.4 1086.8 L686.9 1086.1 L685.4 1085.3 L683.9 1084.6 L682.4 1083.9 L680.9 1083.2 L679.4 1082.5 L677.9 1081.8 L676.4 1081.2 L674.9 1080.5 L673.4 1079.8 L671.9 1079.2 L670.4 1078.5 L668.9 1077.9 L667.4 1077.3 L665.9 1076.6 L664.4 1076.0 L662.9 1075.4 L661.4 1074.8 L659.9 1074.2 L658.4 1073.7 L656.9 1073.1 L655.4 1072.5 L653.9 1072.0 L652.4 1071.4 L650.9 1070.9 L649.4 1070.4 L647.9 1069.8 L646.4 1069.3 L644.9 1068.8 L643.4 1068.3 L641.9 1067.8 L640.4 1067.3 L638.9 1066.9 L637.4 1066.4 L635.9 1065.9 L634.4 1065.5 L632.9 1065.1 L631.4 1064.6 L629.9 1064.2 L628.4 1063.8 L626.9 1063.4 L625.4 1063.0 L623.9 1062.6 L622.4 1062.2 L620.9 1061.8 L619.4 1061.5 L617.9 1061.1 L616.4 1060.7 L614.9 1060.4 L613.4 1060.1 L611.9 1059.8 L610.4 1059.4 L608.9 1059.1 L607.4 1058.8 L605.9 1058.5 L604.4 1058.3 L602.9 1058.0 L601.4 1057.7 L599.9 1057.5 L598.4 1057.2 L596.9 1057.0 L595.4 1056.7 L593.9 1056.5 L592.4 1056.3 L590.9 1056.1 L589.4 1055.9 L587.8 1055.7 L586.3 1055.5 L584.8 1055.4 L583.3 1055.2 L581.8 1055.0 L580.3 1054.9 L578.8 1054.7 L577.3 1054.6 L575.8 1054.5 L574.3 1054.4 L572.8 1054.3 L571.3 1054.2 L569.8 1054.1 L568.3 1054.0 L566.8 1053.9 L565.3 1053.8 L563.8 1053.8 L562.3 1053.7 L560.8 1053.6 L559.3 1053.6 L557.8 1053.5 L556.3 1053.5 L554.8 1053.4 L553.3 1053.4 L551.8 1053.4 L550.3 1053.3 L548.8 1053.3 L547.3 1053.3 L545.8 1053.3 L544.3 1053.3 L542.8 1053.3 L541.3 1053.2 L539.8 1053.2 L538.3 1053.2 L536.8 1053.2 L535.3 1053.2 L533.8 1053.2 L532.3 1053.2 L530.8 1053.2 L529.3 1053.2 L527.8 1053.2 L526.3 1053.2 L524.8 1053.2 L523.3 1053.2 L521.8 1053.2 L520.3 1053.2 L518.8 1053.2 L517.3 1053.2 L515.8 1053.2 L514.3 1053.2 L512.8 1053.2 L511.3 1053.2 L509.8 1053.2 L508.3 1053.2 L506.8 1053.2 L505.3 1053.2 L503.8 1053.2 L502.3 1053.2 L500.8 1053.2 L499.3 1053.1 L497.8 1053.1 L496.3 1053.1 L494.8 1053.1 L493.3 1053.1 L491.8 1053.0 L490.3 1053.0 L488.8 1053.0 L487.3 1053.0 L485.8 1052.9 L484.3 1052.9 L482.8 1052.8 L481.3 1052.8 L479.8 1052.8 L478.3 1052.7 L476.8 1052.7 L475.3 1052.6 L473.8 1052.6 L472.3 1052.5 L470.8 1052.4 L469.2 1052.4 L467.7 1052.3 L466.2 1052.2 L464.7 1052.2 L463.2 1052.1 L461.7 1052.0 L460.2 1051.9 L458.7 1051.8 L457.2 1051.7 L455.7 1051.6 L454.2 1051.5 L452.7 1051.4 L451.2 1051.3 L449.7 1051.2 L448.2 1051.1 L446.7 1051.0 L445.2 1050.8 L443.7 1050.7 L442.2 1050.6 L440.7 1050.4 L439.2 1050.3 L437.7 1050.1 L436.2 1050.0 L434.7 1049.8 L433.2 1049.7 L431.7 1049.5 L430.2 1049.3 L428.7 1049.1 L427.2 1049.0 L425.7 1048.8 L424.2 1048.6 L422.7 1048.4 L421.2 1048.2 L419.7 1048.0 L418.2 1047.8 L416.7 1047.6 L415.2 1047.4 L413.7 1047.2 L412.2 1047.0 L410.7 1046.8 L409.2 1046.6 L407.7 1046.4 L406.2 1046.1 L404.7 1045.9 L403.2 1045.7 L401.7 1045.5 L400.2 1045.3 L398.7 1045.0 L397.2 1044.8 L395.7 1044.6 L394.2 1044.4 L392.7 1044.1 L391.2 1043.9 L389.7 1043.7 L388.2 1043.5 L386.7 1043.2 L385.2 1043.0 L383.7 1042.8 L382.2 1042.6 L380.7 1042.3 L379.2 1042.1 L377.7 1041.9 L376.2 1041.7 L374.7 1041.5 L373.2 1041.2 L371.7 1041.0 L370.2 1040.8 L368.7 1040.6 L367.2 1040.4 L365.7 1040.2 L364.2 1040.0 L362.7 1039.8 L361.2 1039.6 L359.7 1039.4 L358.2 1039.2 L356.7 1039.0 L355.2 1038.8 L353.7 1038.6 L352.2 1038.5 L350.7 1038.3 L349.1 1038.1 L347.6 1038.0 L346.1 1037.8 L344.6 1037.6 L343.1 1037.5 L341.6 1037.3 L340.1 1037.2 L338.6 1037.0 L337.1 1036.9 L335.6 1036.7 L334.1 1036.6 L332.6 1036.5 L331.1 1036.3 L329.6 1036.2 L328.1 1036.1 L326.6 1035.9 L325.1 1035.8 L323.6 1035.7 L322.1 1035.6 L320.6 1035.5 L319.1 1035.3 L317.6 1035.2 L316.1 1035.1 L314.6 1035.0 L313.1 1034.9 L311.6 1034.8 L310.1 1034.7 L308.6 1034.6 L307.1 1034.5 L305.6 1034.4 L304.1 1034.3 L302.6 1034.2 L301.1 1034.1 L299.6 1034.0 L298.1 1033.9 L296.6 1033.8 L295.1 1033.7 L293.6 1033.7 L292.1 1033.6 L290.6 1033.5 L289.1 1033.4 L287.6 1033.3 L286.1 1033.2 L284.6 1033.1 L283.1 1033.1 L281.6 1033.0 L280.1 1032.9 L278.6 1032.8 L277.1 1032.7 L275.6 1032.7 L274.1 1032.6 L272.6 1032.5 L271.1 1032.4 L269.6 1032.3 L268.1 1032.3 L266.6 1032.2 L265.1 1032.1 L263.6 1032.0 L262.1 1031.9 L260.6 1031.8 L259.1 1031.8 L257.6 1031.7 L256.1 1031.6 L254.6 1031.5 L253.1 1031.4 L251.6 1031.3 L250.1 1031.3 L248.6 1031.2 L247.1 1031.1 L245.6 1031.0 L244.1 1030.9 L242.6 1030.8 L241.1 1030.7 L239.6 1030.6 L238.1 1030.5 L236.6 1030.4 L235.1 1030.3 L233.6 1030.2 L232.1 1030.1 L230.6 1030.0 L229.0 1029.9 L227.5 1029.8 L226.0 1029.7 L224.5 1029.6 L223.0 1029.5 L221.5 1029.4 L220.0 1029.2 L218.5 1029.1 L217.0 1029.0 L215.5 1028.9 L214.0 1028.7 L212.5 1028.6 L211.0 1028.5 L209.5 1028.4 L208.0 1028.2 L206.5 1028.1 L205.0 1028.0 L203.5 1027.8 L202.0 1027.7 L200.5 1027.5 L199.0 1027.4 L197.5 1027.2 L196.0 1027.1 L194.5 1026.9 L193.0 1026.7 L191.5 1026.6 L190.0 1026.4 L188.5 1026.2 L187.0 1026.1 L185.5 1025.9 L184.0 1025.7 L182.5 1025.5 L181.0 1025.4 L179.5 1025.2 L178.0 1025.0 L176.5 1024.8 L175.0 1024.6 L173.5 1024.4 L172.0 1024.2 L170.5 1024.0 L169.0 1023.7 L167.5 1023.5 L166.0 1023.3 L164.5 1023.1 L163.0 1022.9 L161.5 1022.6 L160.0 1022.4 L158.5 1022.2 L157.0 1021.9 L155.5 1021.7 L154.0 1021.5 L152.5 1021.2 L151.0 1021.0 L149.5 1020.7 L148.0 1020.5 L146.5 1020.3 L145.0 1020.0 L143.5 1019.8 L142.0 1019.5 L140.5 1019.3 L139.0 1019.1 L137.5 1018.8 L136.0 1018.6 L134.5 1018.4 L133.0 1018.1 L131.5 1017.9 L130.0 1017.7 L128.5 1017.5 L127.0 1017.2 L125.5 1017.0 L124.0 1016.8 L122.5 1016.6 L121.0 1016.4 L119.5 1016.2 L118.0 1016.0 L116.5 1015.8 L115.0 1015.6 L113.5 1015.4 L112.0 1015.2 L110.4 1015.1 L108.9 1014.9 L107.4 1014.7 L105.9 1014.6 L104.4 1014.4 L102.9 1014.3 L101.4 1014.1 L99.9 1014.0 L98.4 1013.9 L96.9 1013.8 L95.4 1013.6 L93.9 1013.5 L92.4 1013.4 L90.9 1013.4 L89.4 1013.3 L87.9 1013.2 L86.4 1013.1Z" fill="#c3c6c6" stroke="none"/>
<path d="M86.4 984.7 L87.9 985.3 L89.4 986.0 L90.9 986.6 L92.4 987.2 L93.9 987.8 L95.4 988.5 L96.9 989.1 L98.4 989.7 L99.9 990.2 L101.4 990.8 L102.9 991.4 L104.4 992.0 L105.9 992.5 L107.4 993.1 L108.9 993.7 L110.4 994.2 L112.0 994.8 L113.5 995.3 L115.0 995.8 L116.5 996.3 L118.0 996.9 L119.5 997.4 L121.0 997.9 L122.5 998.4 L124.0 998.9 L125.5 999.3 L127.0 999.8 L128.5 1000.3 L130.0 1000.8 L131.5 1001.2 L133.0 1001.7 L134.5 1002.1 L136.0 1002.6 L137.5 1003.0 L139.0 1003.4 L140.5 1003.8 L142.0 1004.3 L143.5 1004.7 L145.0 1005.1 L146.5 1005.5 L148.0 1005.9 L149.5 1006.3 L151.0 1006.6 L152.5 1007.0 L154.0 1007.4 L155.5 1007.7 L157.0 1008.1 L158.5 1008.4 L160.0 1008.8 L161.5 1009.1 L163.0 1009.4 L164.5 1009.8 L166.0 1010.1 L167.5 1010.4 L169.0 1010.7 L170.5 1011.0 L172.0 1011.3 L173.5 1011.6 L175.0 1011.8 L176.5 1012.1 L178.0 1012.4 L179.5 1012.6 L181.0 1012.9 L182.5 1013.2 L184.0 1013.4 L185.5 1013.6 L187.0 1013.9 L188.5 1014.1 L190.0 1014.3 L191.5 1014.5 L193.0 1014.7 L194.5 1014.9 L196.0 1015.1 L197.5 1015.3 L199.0 1015.5 L200.5 1015.7 L202.0 1015.8 L203.5 1016.0 L205.0 1016.2 L206.5 1016.3 L208.0 1016.5 L209.5 1016.6 L211.0 1016.8 L212.5 1016.9 L214.0 1017.1 L215.5 1017.2 L217.0 1017.3 L218.5 1017.5 L220.0 1017.6 L221.5 1017.7 L223.0 1017.8 L224.5 1018.0 L226.0 1018.1 L227.5 1018.2 L229.0 1018.3 L230.6 1018.4 L232.1 1018.5 L233.6 1018.6 L235.1 1018.7 L236.6 1018.8 L238.1 1018.9 L239.6 1019.1 L241.1 1019.2 L242.6 1019.3 L244.1 1019.4 L245.6 1019.5 L247.1 1019.6 L248.6 1019.7 L250.1 1019.8 L251.6 1019.9 L253.1 1020.0 L254.6 1020.1 L256.1 1020.2 L257.6 1020.3 L259.1 1020.4 L260.6 1020.5 L262.1 1020.6 L263.6 1020.8 L265.1 1020.9 L266.6 1021.0 L268.1 1021.1 L269.6 1021.2 L271.1 1021.4 L272.6 1021.5 L274.1 1021.6 L275.6 1021.8 L277.1 1021.9 L278.6 1022.0 L280.1 1022.2 L281.6 1022.3 L283.1 1022.5 L284.6 1022.6 L286.1 1022.8 L287.6 1023.0 L289.1 1023.1 L290.6 1023.3 L292.1 1023.5 L293.6 1023.6 L295.1 1023.8 L296.6 1024.0 L298.1 1024.1 L299.6 1024.3 L301.1 1024.5 L302.6 1024.7 L304.1 1024.9 L305.6 1025.1 L307.1 1025.2 L308.6 1025.4 L310.1 1025.6 L311.6 1025.8 L313.1 1026.0 L314.6 1026.2 L316.1 1026.4 L317.6 1026.6 L319.1 1026.8 L320.6 1027.0 L322.1 1027.2 L323.6 1027.4 L325.1 1027.6 L326.6 1027.8 L328.1 1028.1 L329.6 1028.3 L331.1 1028.5 L332.6 1028.7 L334.1 1028.9 L335.6 1029.1 L337.1 1029.3 L338.6 1029.6 L340.1 1029.8 L341.6 1030.0 L343.1 1030.2 L344.6 1030.4 L346.1 1030.6 L347.6 1030.9 L349.1 1031.1 L350.7 1031.3 L352.2 1031.5 L353.7 1031.7 L355.2 1032.0 L356.7 1032.2 L358.2 1032.4 L359.7 1032.6 L361.2 1032.8 L362.7 1033.1 L364.2 1033.3 L365.7 1033.5 L367.2 1033.7 L368.7 1033.9 L370.2 1034.1 L371.7 1034.4 L373.2 1034.6 L374.7 1034.8 L376.2 1035.0 L377.7 1035.2 L379.2 1035.4 L380.7 1035.7 L382.2 1035.9 L383.7 1036.1 L385.2 1036.3 L386.7 1036.5 L388.2 1036.7 L389.7 1036.9 L391.2 1037.1 L392.7 1037.3 L394.2 1037.5 L395.7 1037.7 L397.2 1037.9 L398.7 1038.1 L400.2 1038.3 L401.7 1038.5 L403.2 1038.7 L404.7 1038.9 L406.2 1039.1 L407.7 1039.3 L409.2 1039.4 L410.7 1039.6 L412.2 1039.8 L413.7 1040.0 L415.2 1040.2 L416.7 1040.3 L418.2 1040.5 L419.7 1040.7 L421.2 1040.9 L422.7 1041.0 L424.2 1041.2 L425.7 1041.3 L427.2 1041.5 L428.7 1041.7 L430.2 1041.8 L431.7 1042.0 L433.2 1042.1 L434.7 1042.2 L436.2 1042.4 L437.7 1042.5 L439.2 1042.7 L440.7 1042.8 L442.2 1042.9 L443.7 1043.0 L445.2 1043.2 L446.7 1043.3 L448.2 1043.4 L449.7 1043.5 L451.2 1043.6 L452.7 1043.7 L454.2 1043.8 L455.7 1043.9 L457.2 1044.0 L458.7 1044.1 L460.2 1044.2 L461.7 1044.3 L463.2 1044.4 L464.7 1044.5 L466.2 1044.5 L467.7 1044.6 L469.2 1044.7 L470.8 1044.8 L472.3 1044.8 L473.8 1044.9 L475.3 1045.0 L476.8 1045.0 L478.3 1045.1 L479.8 1045.2 L481.3 1045.2 L482.8 1045.3 L484.3 1045.3 L485.8 1045.3 L487.3 1045.4 L488.8 1045.4 L490.3 1045.5 L491.8 1045.5 L493.3 1045.5 L494.8 1045.6 L496.3 1045.6 L497.8 1045.6 L499.3 1045.6 L500.8 1045.7 L502.3 1045.7 L503.8 1045.7 L505.3 1045.7 L506.8 1045.7 L508.3 1045.7 L509.8 1045.7 L511.3 1045.8 L512.8 1045.8 L514.3 1045.8 L515.8 1045.8 L517.3 1045.8 L518.8 1045.7 L520.3 1045.7 L521.8 1045.7 L523.3 1045.7 L524.8 1045.7 L526.3 1045.7 L527.8 1045.7 L529.3 1045.6 L530.8 1045.6 L532.3 1045.6 L533.8 1045.6 L535.3 1045.6 L536.8 1045.5 L538.3 1045.5 L539.8 1045.5 L541.3 1045.5 L542.8 1045.4 L544.3 1045.4 L545.8 1045.4 L547.3 1045.4 L548.8 1045.4 L550.3 1045.3 L551.8 1045.3 L553.3 1045.3 L554.8 1045.3 L556.3 1045.3 L557.8 1045.3 L559.3 1045.3 L560.8 1045.3 L562.3 1045.3 L563.8 1045.3 L565.3 1045.3 L566.8 1045.3 L568.3 1045.4 L569.8 1045.4 L571.3 1045.4 L572.8 1045.5 L574.3 1045.5 L575.8 1045.5 L577.3 1045.6 L578.8 1045.6 L580.3 1045.7 L581.8 1045.8 L583.3 1045.8 L584.8 1045.9 L586.3 1046.0 L587.8 1046.1 L589.4 1046.2 L590.9 1046.3 L592.4 1046.4 L593.9 1046.6 L595.4 1046.7 L596.9 1046.8 L598.4 1047.0 L599.9 1047.1 L601.4 1047.3 L602.9 1047.4 L604.4 1047.6 L605.9 1047.8 L607.4 1047.9 L608.9 1048.1 L610.4 1048.3 L611.9 1048.5 L613.4 1048.7 L614.9 1048.9 L616.4 1049.2 L617.9 1049.4 L619.4 1049.6 L620.9 1049.9 L622.4 1050.1 L623.9 1050.3 L625.4 1050.6 L626.9 1050.9 L628.4 1051.1 L629.9 1051.4 L631.4 1051.7 L632.9 1052.0 L634.4 1052.3 L635.9 1052.6 L637.4 1052.9 L638.9 1053.2 L640.4 1053.5 L641.9 1053.8 L643.4 1054.2 L644.9 1054.5 L646.4 1054.9 L647.9 1055.2 L649.4 1055.6 L650.9 1055.9 L652.4 1056.3 L653.9 1056.7 L655.4 1057.1 L656.9 1057.4 L658.4 1057.8 L659.9 1058.2 L661.4 1058.6 L662.9 1059.0 L664.4 1059.5 L665.9 1059.9 L667.4 1060.3 L668.9 1060.7 L670.4 1061.2 L671.9 1061.6 L673.4 1062.0 L674.9 1062.5 L676.4 1062.9 L677.9 1063.4 L679.4 1063.9 L680.9 1064.3 L682.4 1064.8 L683.9 1065.2 L685.4 1065.7 L686.9 1066.2 L688.4 1066.6 L689.9 1067.1 L691.4 1067.6 L692.9 1068.1 L694.4 1068.5 L695.9 1069.0 L697.4 1069.5 L698.9 1070.0 L700.4 1070.5 L701.9 1071.0 L703.4 1071.4 L704.9 1071.9 L706.4 1072.4 L707.9 1072.9 L709.5 1073.4 L711.0 1073.8 L712.5 1074.3 L714.0 1074.8 L715.5 1075.3 L717.0 1075.8 L718.5 1076.2 L720.0 1076.7 L721.5 1077.2 L723.0 1077.6 L724.5 1078.1" fill="none" stroke="#222" stroke-width="1.3"/>
<line x1="62.0" y1="1034.4" x2="750.0" y2="1034.4" stroke="#000" stroke-width="1.5" stroke-dasharray="3.4 3.1"/>
<line x1="86.7" y1="1207.8" x2="86.7" y2="1225.0" stroke="#000" stroke-width="1.20" stroke-opacity="1.00"/>
<line x1="90.1" y1="1207.8" x2="90.1" y2="1225.0" stroke="#000" stroke-width="1.20" stroke-opacity="1.00"/>
<line x1="121.6" y1="1207.8" x2="121.6" y2="1225.0" stroke="#000" stroke-width="0.80" stroke-opacity="1.00"/>
<line x1="129.4" y1="1207.8" x2="129.4" y2="1225.0" stroke="#000" stroke-width="2.20" stroke-opacity="1.00"/>
<line x1="137.0" y1="1207.8" x2="137.0" y2="1225.0" stroke="#000" stroke-width="0.80" stroke-opacity="0.60"/>
<line x1="160.2" y1="1207.8" x2="160.2" y2="1225.0" stroke="#000" stroke-width="1.20" stroke-opacity="1.00"/>
<line x1="181.5" y1="1207.8" x2="181.5" y2="1225.0" stroke="#000" stroke-width="1.20" stroke-opacity="1.00"/>
<line x1="187.1" y1="1207.8" x2="187.1" y2="1225.0" stroke="#000" stroke-width="1.20" stroke-opacity="1.00"/>
<line x1="191.5" y1="1207.8" x2="191.5" y2="1225.0" stroke="#000" stroke-width="0.80" stroke-opacity="1.00"/>
<line x1="195.4" y1="1207.8" x2="195.4" y2="1225.0" stroke="#000" stroke-width="2.00" stroke-opacity="1.00"/>
<line x1="199.9" y1="1207.8" x2="199.9" y2="1225.0" stroke="#000" stroke-width="1.20" stroke-opacity="1.00"/>
<line x1="202.7" y1="1207.8" x2="202.7" y2="1225.0" stroke="#000" stroke-width="0.80" stroke-opacity="0.60"/>
<line x1="203.7" y1="1207.8" x2="203.7" y2="1225.0" stroke="#000" stroke-width="0.80" stroke-opacity="0.60"/>
<line x1="205.1" y1="1207.8" x2="205.1" y2="1225.0" stroke="#000" stroke-width="1.20" stroke-opacity="1.00"/>
<line x1="218.3" y1="1207.8" x2="218.3" y2="1225.0" stroke="#000" stroke-width="3.00" stroke-opacity="1.00"/>
<line x1="222.1" y1="1207.8" x2="222.1" y2="1225.0" stroke="#000" stroke-width="0.80" stroke-opacity="1.00"/>
<line x1="230.9" y1="1207.8" x2="230.9" y2="1225.0" stroke="#000" stroke-width="1.20" stroke-opacity="1.00"/>
<line x1="241.2" y1="1207.8" x2="241.2" y2="1225.0" stroke="#000" stroke-width="0.80" stroke-opacity="0.60"/>
<line x1="243.1" y1="1207.8" x2="243.1" y2="1225.0" stroke="#000" stroke-width="0.80" stroke-opacity="1.00"/>
<line x1="248.8" y1="1207.8" x2="248.8" y2="1225.0" stroke="#000" stroke-width="1.20" stroke-opacity="1.00"/>
<line x1="254.8" y1="1207.8" x2="254.8" y2="1225.0" stroke="#000" stroke-width="1.20" stroke-opacity="1.00"/>
<line x1="258.7" y1="1207.8" x2="258.7" y2="1225.0" stroke="#000" stroke-width="0.80" stroke-opacity="0.60"/>
<line x1="260.6" y1="1207.8" x2="260.6" y2="1225.0" stroke="#000" stroke-width="0.80" stroke-opacity="0.60"/>
<line x1="262.1" y1="1207.8" x2="262.1" y2="1225.0" stroke="#000" stroke-width="0.80" stroke-opacity="0.60"/>
<line x1="263.2" y1="1207.8" x2="263.2" y2="1225.0" stroke="#000" stroke-width="0.80" stroke-opacity="0.60"/>
<line x1="274.0" y1="1207.8" x2="274.0" y2="1225.0" stroke="#000" stroke-width="1.20" stroke-opacity="1.00"/>
<line x1="282.9" y1="1207.8" x2="282.9" y2="1225.0" stroke="#000" stroke-width="1.20" stroke-opacity="1.00"/>
<line x1="287.9" y1="1207.8" x2="287.9" y2="1225.0" stroke="#000" stroke-width="1.20" stroke-opacity="1.00"/>
<line x1="301.0" y1="1207.8" x2="301.0" y2="1225.0" stroke="#000" stroke-width="1.20" stroke-opacity="1.00"/>
<line x1="303.3" y1="1207.8" x2="303.3" y2="1225.0" stroke="#000" stroke-width="0.80" stroke-opacity="1.00"/>
<line x1="305.2" y1="1207.8" x2="305.2" y2="1225.0" stroke="#000" stroke-width="1.20" stroke-opacity="1.00"/>
<line x1="306.9" y1="1207.8" x2="306.9" y2="1225.0" stroke="#000" stroke-width="0.80" stroke-opacity="0.60"/>
<line x1="312.4" y1="1207.8" x2="312.4" y2="1225.0" stroke="#000" stroke-width="1.20" stroke-opacity="1.00"/>
<line x1="316.9" y1="1207.8" x2="316.9" y2="1225.0" stroke="#000" stroke-width="1.00" stroke-opacity="0.80"/>
<line x1="325.8" y1="1207.8" x2="325.8" y2="1225.0" stroke="#000" stroke-width="6.50" stroke-opacity="1.00"/>
<line x1="335.3" y1="1207.8" x2="335.3" y2="1225.0" stroke="#000" stroke-width="0.80" stroke-opacity="1.00"/>
<line x1="339.7" y1="1207.8" x2="339.7" y2="1225.0" stroke="#000" stroke-width="0.80" stroke-opacity="1.00"/>
<line x1="347.4" y1="1207.8" x2="347.4" y2="1225.0" stroke="#000" stroke-width="1.20" stroke-opacity="1.00"/>
<line x1="358.5" y1="1207.8" x2="358.5" y2="1225.0" stroke="#000" stroke-width="2.00" stroke-opacity="1.00"/>
<line x1="373.6" y1="1207.8" x2="373.6" y2="1225.0" stroke="#000" stroke-width="1.20" stroke-opacity="1.00"/>
<line x1="378.3" y1="1207.8" x2="378.3" y2="1225.0" stroke="#000" stroke-width="3.00" stroke-opacity="1.00"/>
<line x1="381.0" y1="1207.8" x2="381.0" y2="1225.0" stroke="#000" stroke-width="0.80" stroke-opacity="0.60"/>
<line x1="388.5" y1="1207.8" x2="388.5" y2="1225.0" stroke="#000" stroke-width="0.80" stroke-opacity="1.00"/>
<line x1="391.6" y1="1207.8" x2="391.6" y2="1225.0" stroke="#000" stroke-width="0.80" stroke-opacity="1.00"/>
<line x1="394.0" y1="1207.8" x2="394.0" y2="1225.0" stroke="#000" stroke-width="0.80" stroke-opacity="1.00"/>
<line x1="398.5" y1="1207.8" x2="398.5" y2="1225.0" stroke="#000" stroke-width="3.00" stroke-opacity="1.00"/>
<line x1="406.6" y1="1207.8" x2="406.6" y2="1225.0" stroke="#000" stroke-width="2.50" stroke-opacity="1.00"/>
<line x1="409.6" y1="1207.8" x2="409.6" y2="1225.0" stroke="#000" stroke-width="0.80" stroke-opacity="0.60"/>
<line x1="412.3" y1="1207.8" x2="412.3" y2="1225.0" stroke="#000" stroke-width="1.20" stroke-opacity="1.00"/>
<line x1="418.2" y1="1207.8" x2="418.2" y2="1225.0" stroke="#000" stroke-width="3.00" stroke-opacity="1.00"/>
<line x1="421.3" y1="1207.8" x2="421.3" y2="1225.0" stroke="#000" stroke-width="0.80" stroke-opacity="0.60"/>
<line x1="424.8" y1="1207.8" x2="424.8" y2="1225.0" stroke="#000" stroke-width="0.80" stroke-opacity="0.60"/>
<line x1="430.7" y1="1207.8" x2="430.7" y2="1225.0" stroke="#000" stroke-width="0.80" stroke-opacity="0.60"/>
<line x1="434.9" y1="1207.8" x2="434.9" y2="1225.0" stroke="#000" stroke-width="2.00" stroke-opacity="1.00"/>
<line x1="438.2" y1="1207.8" x2="438.2" y2="1225.0" stroke="#000" stroke-width="1.20" stroke-opacity="1.00"/>
<line x1="440.1" y1="1207.8" x2="440.1" y2="1225.0" stroke="#000" stroke-width="0.80" stroke-opacity="0.60"/>
<line x1="450.7" y1="1207.8" x2="450.7" y2="1225.0" stroke="#000" stroke-width="1.20" stroke-opacity="1.00"/>
<line x1="467.8" y1="1207.8" x2="467.8" y2="1225.0" stroke="#000" stroke-width="2.00" stroke-opacity="0.50"/>
<line x1="472.1" y1="1207.8" x2="472.1" y2="1225.0" stroke="#000" stroke-width="5.00" stroke-opacity="1.00"/>
<line x1="477.8" y1="1207.8" x2="477.8" y2="1225.0" stroke="#000" stroke-width="3.50" stroke-opacity="1.00"/>
<line x1="483.6" y1="1207.8" x2="483.6" y2="1225.0" stroke="#000" stroke-width="1.20" stroke-opacity="1.00"/>
<line x1="490.8" y1="1207.8" x2="490.8" y2="1225.0" stroke="#000" stroke-width="1.20" stroke-opacity="1.00"/>
<line x1="498.7" y1="1207.8" x2="498.7" y2="1225.0" stroke="#000" stroke-width="2.00" stroke-opacity="1.00"/>
<line x1="503.4" y1="1207.8" x2="503.4" y2="1225.0" stroke="#000" stroke-width="0.80" stroke-opacity="0.60"/>
<line x1="515.1" y1="1207.8" x2="515.1" y2="1225.0" stroke="#000" stroke-width="5.00" stroke-opacity="1.00"/>
<line x1="520.9" y1="1207.8" x2="520.9" y2="1225.0" stroke="#000" stroke-width="4.00" stroke-opacity="1.00"/>
<line x1="524.2" y1="1207.8" x2="524.2" y2="1225.0" stroke="#000" stroke-width="0.80" stroke-opacity="0.60"/>
<line x1="527.5" y1="1207.8" x2="527.5" y2="1225.0" stroke="#000" stroke-width="3.50" stroke-opacity="1.00"/>
<line x1="529.7" y1="1207.8" x2="529.7" y2="1225.0" stroke="#000" stroke-width="1.20" stroke-opacity="1.00"/>
<line x1="536.6" y1="1207.8" x2="536.6" y2="1225.0" stroke="#000" stroke-width="2.50" stroke-opacity="1.00"/>
<line x1="542.7" y1="1207.8" x2="542.7" y2="1225.0" stroke="#000" stroke-width="1.20" stroke-opacity="1.00"/>
<line x1="546.7" y1="1207.8" x2="546.7" y2="1225.0" stroke="#000" stroke-width="2.00" stroke-opacity="1.00"/>
<line x1="555.6" y1="1207.8" x2="555.6" y2="1225.0" stroke="#000" stroke-width="0.80" stroke-opacity="1.00"/>
<line x1="559.2" y1="1207.8" x2="559.2" y2="1225.0" stroke="#000" stroke-width="2.00" stroke-opacity="1.00"/>
<line x1="565.0" y1="1207.8" x2="565.0" y2="1225.0" stroke="#000" stroke-width="2.50" stroke-opacity="0.55"/>
<line x1="569.2" y1="1207.8" x2="569.2" y2="1225.0" stroke="#000" stroke-width="1.20" stroke-opacity="1.00"/>
<line x1="573.9" y1="1207.8" x2="573.9" y2="1225.0" stroke="#000" stroke-width="1.20" stroke-opacity="1.00"/>
<line x1="576.6" y1="1207.8" x2="576.6" y2="1225.0" stroke="#000" stroke-width="1.50" stroke-opacity="1.00"/>
<line x1="582.5" y1="1207.8" x2="582.5" y2="1225.0" stroke="#000" stroke-width="1.20" stroke-opacity="1.00"/>
<line x1="594.9" y1="1207.8" x2="594.9" y2="1225.0" stroke="#000" stroke-width="2.50" stroke-opacity="0.75"/>
<line x1="604.4" y1="1207.8" x2="604.4" y2="1225.0" stroke="#000" stroke-width="1.20" stroke-opacity="1.00"/>
<line x1="606.8" y1="1207.8" x2="606.8" y2="1225.0" stroke="#000" stroke-width="1.20" stroke-opacity="1.00"/>
<line x1="620.5" y1="1207.8" x2="620.5" y2="1225.0" stroke="#000" stroke-width="1.20" stroke-opacity="1.00"/>
<line x1="625.1" y1="1207.8" x2="625.1" y2="1225.0" stroke="#000" stroke-width="0.80" stroke-opacity="1.00"/>
<line x1="634.6" y1="1207.8" x2="634.6" y2="1225.0" stroke="#000" stroke-width="1.20" stroke-opacity="1.00"/>
<line x1="639.6" y1="1207.8" x2="639.6" y2="1225.0" stroke="#000" stroke-width="1.20" stroke-opacity="1.00"/>
<line x1="651.8" y1="1207.8" x2="651.8" y2="1225.0" stroke="#000" stroke-width="1.20" stroke-opacity="1.00"/>
<line x1="661.5" y1="1207.8" x2="661.5" y2="1225.0" stroke="#000" stroke-width="1.20" stroke-opacity="1.00"/>
<line x1="718.2" y1="1207.8" x2="718.2" y2="1225.0" stroke="#000" stroke-width="1.20" stroke-opacity="1.00"/>
<line x1="724.2" y1="1207.8" x2="724.2" y2="1225.0" stroke="#000" stroke-width="0.80" stroke-opacity="1.00"/>
<rect x="62.0" y="662.1" width="688.0" height="562.9" fill="none" stroke="#000" stroke-width="1.6"/>
<line x1="53.1" y1="755.6" x2="62.0" y2="755.6" stroke="#000" stroke-width="1.5"/>
<text transform="translate(42.2 755.6) rotate(-90)" text-anchor="middle">4</text>
<line x1="53.1" y1="895.0" x2="62.0" y2="895.0" stroke="#000" stroke-width="1.5"/>
<text transform="translate(42.2 895.0) rotate(-90)" text-anchor="middle">2</text>
<line x1="53.1" y1="1034.4" x2="62.0" y2="1034.4" stroke="#000" stroke-width="1.5"/>
<text transform="translate(42.2 1034.4) rotate(-90)" text-anchor="middle">0</text>
<line x1="53.1" y1="1173.8" x2="62.0" y2="1173.8" stroke="#000" stroke-width="1.5"/>
<text transform="translate(42.2 1173.8) rotate(-90)" text-anchor="middle">−2</text>
<line x1="151.7" y1="1225.0" x2="151.7" y2="1234.1" stroke="#000" stroke-width="1.5"/>
<text x="151.7" y="1253.7" text-anchor="middle">−2</text>
<line x1="280.3" y1="1225.0" x2="280.3" y2="1234.1" stroke="#000" stroke-width="1.5"/>
<text x="280.3" y="1253.7" text-anchor="middle">−1</text>
<line x1="408.9" y1="1225.0" x2="408.9" y2="1234.1" stroke="#000" stroke-width="1.5"/>
<text x="408.9" y="1253.7" text-anchor="middle">0</text>
<line x1="537.5" y1="1225.0" x2="537.5" y2="1234.1" stroke="#000" stroke-width="1.5"/>
<text x="537.5" y="1253.7" text-anchor="middle">1</text>
<line x1="666.1" y1="1225.0" x2="666.1" y2="1234.1" stroke="#000" stroke-width="1.5"/>
<text x="666.1" y="1253.7" text-anchor="middle">2</text>
<text x="406.0" y="1284.7" text-anchor="middle">Work−life enrichment</text>
<text transform="translate(11.3 943.5) rotate(-90)" text-anchor="middle">s(Work−life enrichment, 4.958) F=5.505***</text>
</g>
<g>
<path d="M870.0 682.3 L871.5 683.6 L873.0 684.8 L874.5 686.0 L876.0 687.2 L877.5 688.4 L879.0 689.7 L880.5 690.9 L882.0 692.1 L883.5 693.3 L885.0 694.5 L886.5 695.7 L888.0 696.9 L889.5 698.1 L891.0 699.3 L892.5 700.5 L894.0 701.7 L895.5 702.9 L897.0 704.1 L898.5 705.3 L900.0 706.5 L901.5 707.6 L903.0 708.8 L904.5 710.0 L906.0 711.2 L907.5 712.4 L909.0 713.6 L910.5 714.7 L912.0 715.9 L913.5 717.1 L915.0 718.2 L916.5 719.4 L918.0 720.6 L919.5 721.7 L921.0 722.9 L922.5 724.1 L924.0 725.2 L925.5 726.4 L927.0 727.5 L928.5 728.7 L930.0 729.9 L931.5 731.0 L933.0 732.2 L934.5 733.3 L936.0 734.5 L937.5 735.6 L939.0 736.8 L940.5 737.9 L942.0 739.0 L943.5 740.2 L945.0 741.3 L946.5 742.5 L948.0 743.6 L949.5 744.7 L951.0 745.9 L952.5 747.0 L954.0 748.2 L955.5 749.3 L957.0 750.4 L958.5 751.6 L960.0 752.7 L961.5 753.8 L963.0 754.9 L964.5 756.1 L966.0 757.2 L967.5 758.3 L969.0 759.4 L970.5 760.6 L972.0 761.7 L973.5 762.8 L975.0 763.9 L976.5 765.0 L978.0 766.2 L979.5 767.3 L981.0 768.4 L982.5 769.5 L984.0 770.6 L985.5 771.7 L987.0 772.9 L988.5 774.0 L990.0 775.1 L991.5 776.2 L993.0 777.3 L994.5 778.4 L996.0 779.5 L997.5 780.6 L999.0 781.7 L1000.5 782.8 L1002.0 784.0 L1003.5 785.1 L1005.0 786.2 L1006.5 787.3 L1008.0 788.4 L1009.5 789.5 L1011.0 790.6 L1012.5 791.7 L1014.0 792.8 L1015.5 793.9 L1017.0 795.0 L1018.5 796.1 L1020.0 797.2 L1021.5 798.3 L1023.0 799.4 L1024.5 800.5 L1026.0 801.6 L1027.5 802.7 L1029.0 803.8 L1030.5 804.9 L1032.0 806.0 L1033.5 807.1 L1035.0 808.2 L1036.5 809.3 L1038.0 810.4 L1039.5 811.5 L1041.0 812.6 L1042.5 813.7 L1044.0 814.8 L1045.5 815.9 L1047.0 817.0 L1048.5 818.1 L1050.0 819.2 L1051.5 820.3 L1053.0 821.4 L1054.5 822.5 L1056.0 823.6 L1057.5 824.7 L1059.0 825.8 L1060.5 826.9 L1062.0 828.0 L1063.5 829.1 L1065.0 830.2 L1066.5 831.3 L1068.0 832.4 L1069.6 833.5 L1071.1 834.6 L1072.6 835.7 L1074.1 836.9 L1075.6 838.0 L1077.1 839.1 L1078.6 840.2 L1080.1 841.3 L1081.6 842.4 L1083.1 843.5 L1084.6 844.6 L1086.1 845.7 L1087.6 846.8 L1089.1 847.9 L1090.6 849.0 L1092.1 850.1 L1093.6 851.3 L1095.1 852.4 L1096.6 853.5 L1098.1 854.6 L1099.6 855.7 L1101.1 856.8 L1102.6 857.9 L1104.1 859.1 L1105.6 860.2 L1107.1 861.3 L1108.6 862.4 L1110.1 863.5 L1111.6 864.6 L1113.1 865.8 L1114.6 866.9 L1116.1 868.0 L1117.6 869.1 L1119.1 870.3 L1120.6 871.4 L1122.1 872.5 L1123.6 873.6 L1125.1 874.8 L1126.6 875.9 L1128.1 877.0 L1129.6 878.2 L1131.1 879.3 L1132.6 880.4 L1134.1 881.6 L1135.6 882.7 L1137.1 883.9 L1138.6 885.0 L1140.1 886.1 L1141.6 887.3 L1143.1 888.4 L1144.6 889.6 L1146.1 890.7 L1147.6 891.9 L1149.1 893.0 L1150.6 894.2 L1152.1 895.3 L1153.6 896.5 L1155.1 897.6 L1156.6 898.8 L1158.1 899.9 L1159.6 901.1 L1161.1 902.2 L1162.6 903.4 L1164.1 904.6 L1165.6 905.7 L1167.1 906.9 L1168.6 908.1 L1170.1 909.2 L1171.6 910.4 L1173.1 911.6 L1174.6 912.8 L1176.1 913.9 L1177.6 915.1 L1179.1 916.3 L1180.6 917.5 L1182.1 918.7 L1183.6 919.8 L1185.1 921.0 L1186.6 922.2 L1188.1 923.4 L1189.6 924.6 L1191.1 925.8 L1192.6 927.0 L1194.1 928.2 L1195.6 929.4 L1197.1 930.6 L1198.6 931.8 L1200.1 933.0 L1201.6 934.2 L1203.1 935.4 L1204.6 936.6 L1206.1 937.9 L1207.6 939.1 L1209.1 940.3 L1210.6 941.5 L1212.1 942.7 L1213.6 944.0 L1215.1 945.2 L1216.6 946.4 L1218.1 947.7 L1219.6 948.9 L1221.1 950.1 L1222.6 951.4 L1224.1 952.6 L1225.6 953.9 L1227.1 955.1 L1228.6 956.3 L1230.1 957.6 L1231.6 958.9 L1233.1 960.1 L1234.6 961.4 L1236.1 962.6 L1237.6 963.9 L1239.1 965.2 L1240.6 966.4 L1242.1 967.7 L1243.6 969.0 L1245.1 970.2 L1246.6 971.5 L1248.1 972.8 L1249.6 974.1 L1251.1 975.4 L1252.6 976.7 L1254.1 978.0 L1255.6 979.3 L1257.1 980.6 L1258.6 981.9 L1260.1 983.2 L1261.6 984.5 L1263.1 985.8 L1264.6 987.1 L1266.1 988.4 L1267.6 989.7 L1269.1 991.0 L1270.6 992.4 L1272.1 993.7 L1273.6 995.0 L1275.1 996.3 L1276.6 997.7 L1278.1 999.0 L1279.6 1000.3 L1281.1 1001.6 L1282.6 1002.9 L1284.1 1004.3 L1285.6 1005.6 L1287.1 1006.9 L1288.6 1008.2 L1290.1 1009.5 L1291.6 1010.8 L1293.1 1012.1 L1294.6 1013.4 L1296.1 1014.6 L1297.6 1015.9 L1299.1 1017.2 L1300.6 1018.4 L1302.1 1019.7 L1303.6 1020.9 L1305.1 1022.1 L1306.6 1023.3 L1308.1 1024.5 L1309.7 1025.7 L1311.2 1026.9 L1312.7 1028.0 L1314.2 1029.2 L1315.7 1030.3 L1317.2 1031.4 L1318.7 1032.5 L1320.2 1033.6 L1321.7 1034.7 L1323.2 1035.7 L1324.7 1036.7 L1326.2 1037.8 L1327.7 1038.8 L1329.2 1039.7 L1330.7 1040.7 L1332.2 1041.6 L1333.7 1042.5 L1335.2 1043.4 L1336.7 1044.3 L1338.2 1045.1 L1339.7 1046.0 L1341.2 1046.8 L1342.7 1047.6 L1344.2 1048.4 L1345.7 1049.2 L1347.2 1050.0 L1348.7 1050.7 L1350.2 1051.5 L1351.7 1052.3 L1353.2 1053.1 L1354.7 1053.9 L1356.2 1054.7 L1357.7 1055.6 L1359.2 1056.4 L1360.7 1057.3 L1362.2 1058.1 L1363.7 1059.0 L1365.2 1059.8 L1366.7 1060.5 L1368.2 1061.2 L1369.7 1061.8 L1371.2 1062.2 L1372.7 1062.6 L1374.2 1062.8 L1375.7 1063.0 L1377.2 1063.0 L1378.7 1063.0 L1380.2 1062.9 L1381.7 1062.8 L1383.2 1062.7 L1384.7 1062.5 L1386.2 1062.3 L1387.7 1062.2 L1389.2 1062.0 L1390.7 1061.9 L1392.2 1061.9 L1393.7 1061.9 L1395.2 1061.9 L1396.7 1062.1 L1398.2 1062.4 L1399.7 1062.7 L1401.2 1063.3 L1402.7 1063.9 L1404.2 1064.6 L1405.7 1065.4 L1407.2 1066.4 L1408.7 1067.4 L1410.2 1068.5 L1411.7 1069.6 L1413.2 1070.8 L1414.7 1072.1 L1416.2 1073.3 L1417.7 1074.7 L1419.2 1076.0 L1420.7 1077.4 L1422.2 1078.7 L1423.7 1080.1 L1425.2 1081.4 L1426.7 1082.7 L1428.2 1084.0 L1429.7 1085.2 L1431.2 1086.4 L1432.7 1087.5 L1434.2 1088.6 L1435.7 1089.6 L1437.2 1090.5 L1438.7 1091.4 L1440.2 1092.2 L1441.7 1093.0 L1443.2 1093.8 L1444.7 1094.5 L1446.2 1095.2 L1447.7 1095.9 L1449.2 1096.5 L1450.7 1097.2 L1452.2 1097.8 L1453.7 1098.4 L1455.2 1099.0 L1456.7 1099.7 L1458.2 1100.3 L1459.7 1101.0 L1461.2 1101.6 L1462.7 1102.4 L1464.2 1103.1 L1465.7 1103.9 L1467.2 1104.7 L1468.7 1105.6 L1470.2 1106.6 L1471.7 1107.6 L1473.2 1108.8 L1474.7 1110.0 L1476.2 1111.3 L1477.7 1112.7 L1479.2 1114.2 L1480.7 1115.8 L1482.2 1117.6 L1483.7 1119.4 L1485.2 1121.5 L1486.7 1123.6 L1488.2 1125.9 L1489.7 1128.3 L1491.2 1130.7 L1492.7 1133.2 L1494.2 1135.6 L1495.7 1138.1 L1497.2 1140.5 L1498.7 1142.8 L1500.2 1145.0 L1501.7 1147.0 L1503.2 1148.9 L1504.7 1150.6 L1506.2 1152.0 L1507.7 1153.3 L1507.7 1204.7 L1506.2 1201.3 L1504.7 1197.9 L1503.2 1194.6 L1501.7 1191.4 L1500.2 1188.3 L1498.7 1185.2 L1497.2 1182.3 L1495.7 1179.4 L1494.2 1176.6 L1492.7 1173.9 L1491.2 1171.3 L1489.7 1168.8 L1488.2 1166.3 L1486.7 1164.0 L1485.2 1161.7 L1483.7 1159.6 L1482.2 1157.5 L1480.7 1155.5 L1479.2 1153.6 L1477.7 1151.7 L1476.2 1150.0 L1474.7 1148.3 L1473.2 1146.7 L1471.7 1145.2 L1470.2 1143.8 L1468.7 1142.4 L1467.2 1141.2 L1465.7 1140.0 L1464.2 1138.8 L1462.7 1137.8 L1461.2 1136.8 L1459.7 1135.8 L1458.2 1134.9 L1456.7 1134.0 L1455.2 1133.2 L1453.7 1132.3 L1452.2 1131.5 L1450.7 1130.7 L1449.2 1129.8 L1447.7 1129.0 L1446.2 1128.1 L1444.7 1127.2 L1443.2 1126.2 L1441.7 1125.2 L1440.2 1124.1 L1438.7 1123.0 L1437.2 1121.8 L1435.7 1120.5 L1434.2 1119.2 L1432.7 1117.9 L1431.2 1116.5 L1429.7 1115.0 L1428.2 1113.6 L1426.7 1112.1 L1425.2 1110.6 L1423.7 1109.0 L1422.2 1107.5 L1420.7 1106.0 L1419.2 1104.5 L1417.7 1103.1 L1416.2 1101.6 L1414.7 1100.2 L1413.2 1098.8 L1411.7 1097.5 L1410.2 1096.2 L1408.7 1095.0 L1407.2 1093.8 L1405.7 1092.6 L1404.2 1091.6 L1402.7 1090.5 L1401.2 1089.5 L1399.7 1088.6 L1398.2 1087.8 L1396.7 1086.9 L1395.2 1086.2 L1393.7 1085.5 L1392.2 1084.8 L1390.7 1084.2 L1389.2 1083.7 L1387.7 1083.2 L1386.2 1082.8 L1384.7 1082.3 L1383.2 1082.0 L1381.7 1081.6 L1380.2 1081.3 L1378.7 1081.0 L1377.2 1080.7 L1375.7 1080.4 L1374.2 1080.1 L1372.7 1079.9 L1371.2 1079.6 L1369.7 1079.3 L1368.2 1079.1 L1366.7 1078.8 L1365.2 1078.5 L1363.7 1078.1 L1362.2 1077.8 L1360.7 1077.4 L1359.2 1076.9 L1357.7 1076.5 L1356.2 1076.0 L1354.7 1075.4 L1353.2 1074.9 L1351.7 1074.3 L1350.2 1073.6 L1348.7 1073.0 L1347.2 1072.3 L1345.7 1071.5 L1344.2 1070.8 L1342.7 1070.0 L1341.2 1069.2 L1339.7 1068.4 L1338.2 1067.6 L1336.7 1066.7 L1335.2 1065.9 L1333.7 1065.0 L1332.2 1064.1 L1330.7 1063.2 L1329.2 1062.3 L1327.7 1061.4 L1326.2 1060.5 L1324.7 1059.5 L1323.2 1058.6 L1321.7 1057.7 L1320.2 1056.8 L1318.7 1055.9 L1317.2 1054.9 L1315.7 1054.0 L1314.2 1053.1 L1312.7 1052.2 L1311.2 1051.4 L1309.7 1050.5 L1308.1 1049.6 L1306.6 1048.8 L1305.1 1047.9 L1303.6 1047.1 L1302.1 1046.2 L1300.6 1045.3 L1299.1 1044.4 L1297.6 1043.5 L1296.1 1042.6 L1294.6 1041.6 L1293.1 1040.6 L1291.6 1039.6 L1290.1 1038.6 L1288.6 1037.5 L1287.1 1036.4 L1285.6 1035.2 L1284.1 1034.0 L1282.6 1032.8 L1281.1 1031.6 L1279.6 1030.3 L1278.1 1029.0 L1276.6 1027.7 L1275.1 1026.4 L1273.6 1025.1 L1272.1 1023.7 L1270.6 1022.4 L1269.1 1021.0 L1267.6 1019.7 L1266.1 1018.4 L1264.6 1017.1 L1263.1 1015.7 L1261.6 1014.4 L1260.1 1013.1 L1258.6 1011.9 L1257.1 1010.6 L1255.6 1009.3 L1254.1 1008.0 L1252.6 1006.8 L1251.1 1005.5 L1249.6 1004.3 L1248.1 1003.0 L1246.6 1001.8 L1245.1 1000.6 L1243.6 999.4 L1242.1 998.2 L1240.6 996.9 L1239.1 995.8 L1237.6 994.6 L1236.1 993.4 L1234.6 992.2 L1233.1 991.0 L1231.6 989.9 L1230.1 988.7 L1228.6 987.6 L1227.1 986.4 L1225.6 985.3 L1224.1 984.1 L1222.6 983.0 L1221.1 981.9 L1219.6 980.8 L1218.1 979.7 L1216.6 978.6 L1215.1 977.5 L1213.6 976.4 L1212.1 975.3 L1210.6 974.2 L1209.1 973.1 L1207.6 972.0 L1206.1 971.0 L1204.6 969.9 L1203.1 968.8 L1201.6 967.8 L1200.1 966.7 L1198.6 965.7 L1197.1 964.7 L1195.6 963.6 L1194.1 962.6 L1192.6 961.6 L1191.1 960.6 L1189.6 959.5 L1188.1 958.5 L1186.6 957.5 L1185.1 956.5 L1183.6 955.5 L1182.1 954.5 L1180.6 953.5 L1179.1 952.5 L1177.6 951.6 L1176.1 950.6 L1174.6 949.6 L1173.1 948.6 L1171.6 947.7 L1170.1 946.7 L1168.6 945.7 L1167.1 944.8 L1165.6 943.8 L1164.1 942.9 L1162.6 941.9 L1161.1 941.0 L1159.6 940.0 L1158.1 939.1 L1156.6 938.1 L1155.1 937.2 L1153.6 936.3 L1152.1 935.3 L1150.6 934.4 L1149.1 933.5 L1147.6 932.6 L1146.1 931.6 L1144.6 930.7 L1143.1 929.8 L1141.6 928.9 L1140.1 928.0 L1138.6 927.1 L1137.1 926.2 L1135.6 925.3 L1134.1 924.4 L1132.6 923.4 L1131.1 922.5 L1129.6 921.6 L1128.1 920.7 L1126.6 919.8 L1125.1 919.0 L1123.6 918.1 L1122.1 917.2 L1120.6 916.3 L1119.1 915.4 L1117.6 914.5 L1116.1 913.6 L1114.6 912.7 L1113.1 911.8 L1111.6 910.9 L1110.1 910.0 L1108.6 909.1 L1107.1 908.3 L1105.6 907.4 L1104.1 906.5 L1102.6 905.6 L1101.1 904.7 L1099.6 903.8 L1098.1 902.9 L1096.6 902.1 L1095.1 901.2 L1093.6 900.3 L1092.1 899.4 L1090.6 898.5 L1089.1 897.6 L1087.6 896.7 L1086.1 895.8 L1084.6 895.0 L1083.1 894.1 L1081.6 893.2 L1080.1 892.3 L1078.6 891.4 L1077.1 890.5 L1075.6 889.6 L1074.1 888.7 L1072.6 887.8 L1071.1 886.9 L1069.6 886.0 L1068.0 885.1 L1066.5 884.2 L1065.0 883.3 L1063.5 882.4 L1062.0 881.5 L1060.5 880.6 L1059.0 879.7 L1057.5 878.8 L1056.0 877.9 L1054.5 877.0 L1053.0 876.1 L1051.5 875.2 L1050.0 874.3 L1048.5 873.4 L1047.0 872.5 L1045.5 871.6 L1044.0 870.7 L1042.5 869.8 L1041.0 868.9 L1039.5 867.9 L1038.0 867.0 L1036.5 866.1 L1035.0 865.2 L1033.5 864.3 L1032.0 863.4 L1030.5 862.5 L1029.0 861.6 L1027.5 860.7 L1026.0 859.8 L1024.5 858.9 L1023.0 858.0 L1021.5 857.1 L1020.0 856.1 L1018.5 855.2 L1017.0 854.3 L1015.5 853.4 L1014.0 852.5 L1012.5 851.6 L1011.0 850.7 L1009.5 849.8 L1008.0 848.9 L1006.5 848.0 L1005.0 847.1 L1003.5 846.2 L1002.0 845.3 L1000.5 844.4 L999.0 843.5 L997.5 842.6 L996.0 841.7 L994.5 840.8 L993.0 839.9 L991.5 839.0 L990.0 838.1 L988.5 837.2 L987.0 836.3 L985.5 835.4 L984.0 834.5 L982.5 833.6 L981.0 832.7 L979.5 831.8 L978.0 830.9 L976.5 830.0 L975.0 829.1 L973.5 828.2 L972.0 827.3 L970.5 826.5 L969.0 825.6 L967.5 824.7 L966.0 823.8 L964.5 822.9 L963.0 822.0 L961.5 821.2 L960.0 820.3 L958.5 819.4 L957.0 818.5 L955.5 817.6 L954.0 816.8 L952.5 815.9 L951.0 815.0 L949.5 814.2 L948.0 813.3 L946.5 812.4 L945.0 811.6 L943.5 810.7 L942.0 809.8 L940.5 809.0 L939.0 808.1 L937.5 807.3 L936.0 806.4 L934.5 805.5 L933.0 804.7 L931.5 803.8 L930.0 803.0 L928.5 802.1 L927.0 801.3 L925.5 800.5 L924.0 799.6 L922.5 798.8 L921.0 797.9 L919.5 797.1 L918.0 796.3 L916.5 795.4 L915.0 794.6 L913.5 793.8 L912.0 793.0 L910.5 792.1 L909.0 791.3 L907.5 790.5 L906.0 789.7 L904.5 788.9 L903.0 788.1 L901.5 787.2 L900.0 786.4 L898.5 785.6 L897.0 784.8 L895.5 784.0 L894.0 783.2 L892.5 782.4 L891.0 781.7 L889.5 780.9 L888.0 780.1 L886.5 779.3 L885.0 778.5 L883.5 777.7 L882.0 777.0 L880.5 776.2 L879.0 775.4 L877.5 774.6 L876.0 773.9 L874.5 773.1 L873.0 772.4 L871.5 771.6 L870.0 770.8Z" fill="#c3c6c6" stroke="none"/>
<path d="M870.0 726.9 L871.5 727.9 L873.0 728.8 L874.5 729.8 L876.0 730.8 L877.5 731.8 L879.0 732.8 L880.5 733.7 L882.0 734.7 L883.5 735.7 L885.0 736.7 L886.5 737.7 L888.0 738.6 L889.5 739.6 L891.0 740.6 L892.5 741.6 L894.0 742.6 L895.5 743.6 L897.0 744.5 L898.5 745.5 L900.0 746.5 L901.5 747.5 L903.0 748.5 L904.5 749.5 L906.0 750.5 L907.5 751.4 L909.0 752.4 L910.5 753.4 L912.0 754.4 L913.5 755.4 L915.0 756.4 L916.5 757.4 L918.0 758.3 L919.5 759.3 L921.0 760.3 L922.5 761.3 L924.0 762.3 L925.5 763.3 L927.0 764.3 L928.5 765.3 L930.0 766.2 L931.5 767.2 L933.0 768.2 L934.5 769.2 L936.0 770.2 L937.5 771.2 L939.0 772.2 L940.5 773.2 L942.0 774.2 L943.5 775.2 L945.0 776.2 L946.5 777.1 L948.0 778.1 L949.5 779.1 L951.0 780.1 L952.5 781.1 L954.0 782.1 L955.5 783.1 L957.0 784.1 L958.5 785.1 L960.0 786.1 L961.5 787.1 L963.0 788.1 L964.5 789.1 L966.0 790.1 L967.5 791.1 L969.0 792.1 L970.5 793.1 L972.0 794.1 L973.5 795.1 L975.0 796.0 L976.5 797.0 L978.0 798.0 L979.5 799.0 L981.0 800.0 L982.5 801.0 L984.0 802.0 L985.5 803.0 L987.0 804.0 L988.5 805.0 L990.0 806.0 L991.5 807.0 L993.0 808.0 L994.5 809.0 L996.0 810.0 L997.5 811.0 L999.0 812.0 L1000.5 813.0 L1002.0 814.0 L1003.5 815.1 L1005.0 816.1 L1006.5 817.1 L1008.0 818.1 L1009.5 819.1 L1011.0 820.1 L1012.5 821.1 L1014.0 822.1 L1015.5 823.1 L1017.0 824.1 L1018.5 825.1 L1020.0 826.1 L1021.5 827.1 L1023.0 828.1 L1024.5 829.1 L1026.0 830.1 L1027.5 831.1 L1029.0 832.1 L1030.5 833.2 L1032.0 834.2 L1033.5 835.2 L1035.0 836.2 L1036.5 837.2 L1038.0 838.2 L1039.5 839.2 L1041.0 840.2 L1042.5 841.2 L1044.0 842.2 L1045.5 843.3 L1047.0 844.3 L1048.5 845.3 L1050.0 846.3 L1051.5 847.3 L1053.0 848.3 L1054.5 849.3 L1056.0 850.4 L1057.5 851.4 L1059.0 852.4 L1060.5 853.4 L1062.0 854.4 L1063.5 855.4 L1065.0 856.4 L1066.5 857.5 L1068.0 858.5 L1069.6 859.5 L1071.1 860.5 L1072.6 861.5 L1074.1 862.5 L1075.6 863.6 L1077.1 864.6 L1078.6 865.6 L1080.1 866.6 L1081.6 867.6 L1083.1 868.7 L1084.6 869.7 L1086.1 870.7 L1087.6 871.7 L1089.1 872.7 L1090.6 873.8 L1092.1 874.8 L1093.6 875.8 L1095.1 876.8 L1096.6 877.9 L1098.1 878.9 L1099.6 879.9 L1101.1 880.9 L1102.6 882.0 L1104.1 883.0 L1105.6 884.0 L1107.1 885.0 L1108.6 886.1 L1110.1 887.1 L1111.6 888.1 L1113.1 889.1 L1114.6 890.2 L1116.1 891.2 L1117.6 892.2 L1119.1 893.3 L1120.6 894.3 L1122.1 895.3 L1123.6 896.3 L1125.1 897.4 L1126.6 898.4 L1128.1 899.4 L1129.6 900.5 L1131.1 901.5 L1132.6 902.5 L1134.1 903.6 L1135.6 904.6 L1137.1 905.6 L1138.6 906.7 L1140.1 907.7 L1141.6 908.7 L1143.1 909.8 L1144.6 910.8 L1146.1 911.8 L1147.6 912.9 L1149.1 913.9 L1150.6 914.9 L1152.1 916.0 L1153.6 917.0 L1155.1 918.1 L1156.6 919.1 L1158.1 920.1 L1159.6 921.2 L1161.1 922.2 L1162.6 923.3 L1164.1 924.3 L1165.6 925.3 L1167.1 926.4 L1168.6 927.4 L1170.1 928.5 L1171.6 929.5 L1173.1 930.6 L1174.6 931.6 L1176.1 932.6 L1177.6 933.7 L1179.1 934.7 L1180.6 935.8 L1182.1 936.8 L1183.6 937.9 L1185.1 938.9 L1186.6 940.0 L1188.1 941.1 L1189.6 942.1 L1191.1 943.2 L1192.6 944.3 L1194.1 945.4 L1195.6 946.4 L1197.1 947.5 L1198.6 948.6 L1200.1 949.7 L1201.6 950.9 L1203.1 952.0 L1204.6 953.1 L1206.1 954.2 L1207.6 955.4 L1209.1 956.5 L1210.6 957.7 L1212.1 958.9 L1213.6 960.0 L1215.1 961.2 L1216.6 962.4 L1218.1 963.7 L1219.6 964.9 L1221.1 966.1 L1222.6 967.4 L1224.1 968.6 L1225.6 969.9 L1227.1 971.2 L1228.6 972.5 L1230.1 973.8 L1231.6 975.1 L1233.1 976.4 L1234.6 977.7 L1236.1 979.1 L1237.6 980.4 L1239.1 981.7 L1240.6 983.1 L1242.1 984.4 L1243.6 985.8 L1245.1 987.1 L1246.6 988.5 L1248.1 989.8 L1249.6 991.2 L1251.1 992.5 L1252.6 993.9 L1254.1 995.2 L1255.6 996.5 L1257.1 997.9 L1258.6 999.2 L1260.1 1000.5 L1261.6 1001.8 L1263.1 1003.1 L1264.6 1004.4 L1266.1 1005.7 L1267.6 1007.0 L1269.1 1008.2 L1270.6 1009.5 L1272.1 1010.7 L1273.6 1012.0 L1275.1 1013.2 L1276.6 1014.4 L1278.1 1015.6 L1279.6 1016.7 L1281.1 1017.9 L1282.6 1019.0 L1284.1 1020.2 L1285.6 1021.3 L1287.1 1022.4 L1288.6 1023.5 L1290.1 1024.6 L1291.6 1025.6 L1293.1 1026.7 L1294.6 1027.7 L1296.1 1028.8 L1297.6 1029.8 L1299.1 1030.8 L1300.6 1031.9 L1302.1 1032.9 L1303.6 1033.9 L1305.1 1034.9 L1306.6 1035.9 L1308.1 1036.9 L1309.7 1037.9 L1311.2 1038.9 L1312.7 1039.9 L1314.2 1040.8 L1315.7 1041.8 L1317.2 1042.8 L1318.7 1043.7 L1320.2 1044.7 L1321.7 1045.6 L1323.2 1046.6 L1324.7 1047.5 L1326.2 1048.4 L1327.7 1049.3 L1329.2 1050.2 L1330.7 1051.1 L1332.2 1052.0 L1333.7 1052.9 L1335.2 1053.8 L1336.7 1054.7 L1338.2 1055.5 L1339.7 1056.4 L1341.2 1057.2 L1342.7 1058.0 L1344.2 1058.8 L1345.7 1059.7 L1347.2 1060.5 L1348.7 1061.2 L1350.2 1062.0 L1351.7 1062.8 L1353.2 1063.5 L1354.7 1064.3 L1356.2 1065.0 L1357.7 1065.7 L1359.2 1066.3 L1360.7 1067.0 L1362.2 1067.6 L1363.7 1068.2 L1365.2 1068.8 L1366.7 1069.3 L1368.2 1069.8 L1369.7 1070.3 L1371.2 1070.7 L1372.7 1071.1 L1374.2 1071.5 L1375.7 1071.8 L1377.2 1072.1 L1378.7 1072.3 L1380.2 1072.5 L1381.7 1072.7 L1383.2 1072.9 L1384.7 1073.1 L1386.2 1073.2 L1387.7 1073.4 L1389.2 1073.6 L1390.7 1073.7 L1392.2 1074.0 L1393.7 1074.2 L1395.2 1074.5 L1396.7 1074.9 L1398.2 1075.3 L1399.7 1075.8 L1401.2 1076.3 L1402.7 1076.9 L1404.2 1077.7 L1405.7 1078.5 L1407.2 1079.4 L1408.7 1080.4 L1410.2 1081.5 L1411.7 1082.7 L1413.2 1083.9 L1414.7 1085.2 L1416.2 1086.6 L1417.7 1087.9 L1419.2 1089.4 L1420.7 1090.8 L1422.2 1092.2 L1423.7 1093.6 L1425.2 1095.1 L1426.7 1096.4 L1428.2 1097.8 L1429.7 1099.1 L1431.2 1100.4 L1432.7 1101.5 L1434.2 1102.7 L1435.7 1103.7 L1437.2 1104.7 L1438.7 1105.6 L1440.2 1106.5 L1441.7 1107.3 L1443.2 1108.1 L1444.7 1108.8 L1446.2 1109.6 L1447.7 1110.3 L1449.2 1111.0 L1450.7 1111.7 L1452.2 1112.5 L1453.7 1113.2 L1455.2 1114.0 L1456.7 1114.8 L1458.2 1115.6 L1459.7 1116.4 L1461.2 1117.3 L1462.7 1118.3 L1464.2 1119.3 L1465.7 1120.4 L1467.2 1121.5 L1468.7 1122.6 L1470.2 1123.8 L1471.7 1125.1 L1473.2 1126.5 L1474.7 1127.9 L1476.2 1129.3 L1477.7 1130.9 L1479.2 1132.5 L1480.7 1134.2 L1482.2 1135.9 L1483.7 1137.7 L1485.2 1139.6 L1486.7 1141.6 L1488.2 1143.7 L1489.7 1145.8 L1491.2 1148.0 L1492.7 1150.3 L1494.2 1152.7 L1495.7 1155.2 L1497.2 1157.8 L1498.7 1160.5 L1500.2 1163.3 L1501.7 1166.1 L1503.2 1169.1 L1504.7 1172.2 L1506.2 1175.4 L1507.7 1178.7" fill="none" stroke="#222" stroke-width="1.3"/>
<line x1="845.3" y1="1034.5" x2="1533.4" y2="1034.5" stroke="#000" stroke-width="1.5" stroke-dasharray="3.4 3.1"/>
<line x1="870.3" y1="1207.7" x2="870.3" y2="1224.9" stroke="#000" stroke-width="1.20" stroke-opacity="1.00"/>
<line x1="877.7" y1="1207.7" x2="877.7" y2="1224.9" stroke="#000" stroke-width="1.20" stroke-opacity="1.00"/>
<line x1="920.8" y1="1207.7" x2="920.8" y2="1224.9" stroke="#000" stroke-width="1.20" stroke-opacity="1.00"/>
<line x1="933.5" y1="1207.7" x2="933.5" y2="1224.9" stroke="#000" stroke-width="0.80" stroke-opacity="1.00"/>
<line x1="937.2" y1="1207.7" x2="937.2" y2="1224.9" stroke="#000" stroke-width="0.80" stroke-opacity="1.00"/>
<line x1="944.4" y1="1207.7" x2="944.4" y2="1224.9" stroke="#000" stroke-width="1.20" stroke-opacity="1.00"/>
<line x1="948.2" y1="1207.7" x2="948.2" y2="1224.9" stroke="#000" stroke-width="1.20" stroke-opacity="1.00"/>
<line x1="956.0" y1="1207.7" x2="956.0" y2="1224.9" stroke="#000" stroke-width="2.00" stroke-opacity="1.00"/>
<line x1="982.9" y1="1207.7" x2="982.9" y2="1224.9" stroke="#000" stroke-width="1.20" stroke-opacity="1.00"/>
<line x1="1030.4" y1="1207.7" x2="1030.4" y2="1224.9" stroke="#000" stroke-width="0.80" stroke-opacity="0.60"/>
<line x1="1036.5" y1="1207.7" x2="1036.5" y2="1224.9" stroke="#000" stroke-width="0.80" stroke-opacity="1.00"/>
<line x1="1056.7" y1="1207.7" x2="1056.7" y2="1224.9" stroke="#000" stroke-width="1.20" stroke-opacity="1.00"/>
<line x1="1075.4" y1="1207.7" x2="1075.4" y2="1224.9" stroke="#000" stroke-width="1.20" stroke-opacity="1.00"/>
<line x1="1096.9" y1="1207.7" x2="1096.9" y2="1224.9" stroke="#000" stroke-width="0.90" stroke-opacity="0.60"/>
<line x1="1103.6" y1="1207.7" x2="1103.6" y2="1224.9" stroke="#000" stroke-width="0.80" stroke-opacity="1.00"/>
<line x1="1107.0" y1="1207.7" x2="1107.0" y2="1224.9" stroke="#000" stroke-width="1.20" stroke-opacity="1.00"/>
<line x1="1133.9" y1="1207.7" x2="1133.9" y2="1224.9" stroke="#000" stroke-width="1.20" stroke-opacity="1.00"/>
<line x1="1139.1" y1="1207.7" x2="1139.1" y2="1224.9" stroke="#000" stroke-width="0.80" stroke-opacity="1.00"/>
<line x1="1143.2" y1="1207.7" x2="1143.2" y2="1224.9" stroke="#000" stroke-width="2.00" stroke-opacity="1.00"/>
<line x1="1152.9" y1="1207.7" x2="1152.9" y2="1224.9" stroke="#000" stroke-width="0.90" stroke-opacity="0.60"/>
<line x1="1162.6" y1="1207.7" x2="1162.6" y2="1224.9" stroke="#000" stroke-width="0.80" stroke-opacity="1.00"/>
<line x1="1164.6" y1="1207.7" x2="1164.6" y2="1224.9" stroke="#000" stroke-width="1.20" stroke-opacity="1.00"/>
<line x1="1184.4" y1="1207.7" x2="1184.4" y2="1224.9" stroke="#000" stroke-width="1.20" stroke-opacity="1.00"/>
<line x1="1189.6" y1="1207.7" x2="1189.6" y2="1224.9" stroke="#000" stroke-width="0.80" stroke-opacity="1.00"/>
<line x1="1205.1" y1="1207.7" x2="1205.1" y2="1224.9" stroke="#000" stroke-width="0.90" stroke-opacity="0.60"/>
<line x1="1208.8" y1="1207.7" x2="1208.8" y2="1224.9" stroke="#000" stroke-width="1.20" stroke-opacity="1.00"/>
<line x1="1220.9" y1="1207.7" x2="1220.9" y2="1224.9" stroke="#000" stroke-width="1.20" stroke-opacity="1.00"/>
<line x1="1224.0" y1="1207.7" x2="1224.0" y2="1224.9" stroke="#000" stroke-width="1.20" stroke-opacity="1.00"/>
<line x1="1235.6" y1="1207.7" x2="1235.6" y2="1224.9" stroke="#000" stroke-width="2.50" stroke-opacity="1.00"/>
<line x1="1242.6" y1="1207.7" x2="1242.6" y2="1224.9" stroke="#000" stroke-width="0.80" stroke-opacity="1.00"/>
<line x1="1245.4" y1="1207.7" x2="1245.4" y2="1224.9" stroke="#000" stroke-width="1.20" stroke-opacity="1.00"/>
<line x1="1249.3" y1="1207.7" x2="1249.3" y2="1224.9" stroke="#000" stroke-width="1.20" stroke-opacity="1.00"/>
<line x1="1253.2" y1="1207.7" x2="1253.2" y2="1224.9" stroke="#000" stroke-width="2.00" stroke-opacity="1.00"/>
<line x1="1256.8" y1="1207.7" x2="1256.8" y2="1224.9" stroke="#000" stroke-width="1.20" stroke-opacity="1.00"/>
<line x1="1284.2" y1="1207.7" x2="1284.2" y2="1224.9" stroke="#000" stroke-width="0.80" stroke-opacity="0.60"/>
<line x1="1285.4" y1="1207.7" x2="1285.4" y2="1224.9" stroke="#000" stroke-width="0.80" stroke-opacity="0.60"/>
<line x1="1286.8" y1="1207.7" x2="1286.8" y2="1224.9" stroke="#000" stroke-width="0.80" stroke-opacity="0.60"/>
<line x1="1287.9" y1="1207.7" x2="1287.9" y2="1224.9" stroke="#000" stroke-width="0.80" stroke-opacity="0.60"/>
<line x1="1300.0" y1="1207.7" x2="1300.0" y2="1224.9" stroke="#000" stroke-width="1.20" stroke-opacity="1.00"/>
<line x1="1305.6" y1="1207.7" x2="1305.6" y2="1224.9" stroke="#000" stroke-width="1.20" stroke-opacity="1.00"/>
<line x1="1307.2" y1="1207.7" x2="1307.2" y2="1224.9" stroke="#000" stroke-width="0.80" stroke-opacity="0.60"/>
<line x1="1308.8" y1="1207.7" x2="1308.8" y2="1224.9" stroke="#000" stroke-width="1.50" stroke-opacity="1.00"/>
<line x1="1316.9" y1="1207.7" x2="1316.9" y2="1224.9" stroke="#000" stroke-width="1.20" stroke-opacity="1.00"/>
<line x1="1322.4" y1="1207.7" x2="1322.4" y2="1224.9" stroke="#000" stroke-width="0.80" stroke-opacity="1.00"/>
<line x1="1326.6" y1="1207.7" x2="1326.6" y2="1224.9" stroke="#000" stroke-width="1.20" stroke-opacity="1.00"/>
<line x1="1331.0" y1="1207.7" x2="1331.0" y2="1224.9" stroke="#000" stroke-width="2.50" stroke-opacity="1.00"/>
<line x1="1336.9" y1="1207.7" x2="1336.9" y2="1224.9" stroke="#000" stroke-width="1.50" stroke-opacity="1.00"/>
<line x1="1345.3" y1="1207.7" x2="1345.3" y2="1224.9" stroke="#000" stroke-width="1.20" stroke-opacity="1.00"/>
<line x1="1353.6" y1="1207.7" x2="1353.6" y2="1224.9" stroke="#000" stroke-width="2.50" stroke-opacity="1.00"/>
<line x1="1363.2" y1="1207.7" x2="1363.2" y2="1224.9" stroke="#000" stroke-width="13.70" stroke-opacity="1.00"/>
<line x1="1371.9" y1="1207.7" x2="1371.9" y2="1224.9" stroke="#000" stroke-width="1.20" stroke-opacity="1.00"/>
<line x1="1375.5" y1="1207.7" x2="1375.5" y2="1224.9" stroke="#000" stroke-width="1.20" stroke-opacity="1.00"/>
<line x1="1378.2" y1="1207.7" x2="1378.2" y2="1224.9" stroke="#000" stroke-width="0.80" stroke-opacity="0.60"/>
<line x1="1379.4" y1="1207.7" x2="1379.4" y2="1224.9" stroke="#000" stroke-width="0.80" stroke-opacity="0.60"/>
<line x1="1380.7" y1="1207.7" x2="1380.7" y2="1224.9" stroke="#000" stroke-width="0.80" stroke-opacity="0.60"/>
<line x1="1381.9" y1="1207.7" x2="1381.9" y2="1224.9" stroke="#000" stroke-width="0.80" stroke-opacity="0.60"/>
<line x1="1385.7" y1="1207.7" x2="1385.7" y2="1224.9" stroke="#000" stroke-width="0.80" stroke-opacity="0.60"/>
<line x1="1387.2" y1="1207.7" x2="1387.2" y2="1224.9" stroke="#000" stroke-width="0.80" stroke-opacity="0.60"/>
<line x1="1388.8" y1="1207.7" x2="1388.8" y2="1224.9" stroke="#000" stroke-width="1.20" stroke-opacity="1.00"/>
<line x1="1391.6" y1="1207.7" x2="1391.6" y2="1224.9" stroke="#000" stroke-width="1.20" stroke-opacity="1.00"/>
<line x1="1394.3" y1="1207.7" x2="1394.3" y2="1224.9" stroke="#000" stroke-width="1.20" stroke-opacity="1.00"/>
<line x1="1398.7" y1="1207.7" x2="1398.7" y2="1224.9" stroke="#000" stroke-width="2.50" stroke-opacity="1.00"/>
<line x1="1401.3" y1="1207.7" x2="1401.3" y2="1224.9" stroke="#000" stroke-width="0.80" stroke-opacity="0.60"/>
<line x1="1402.6" y1="1207.7" x2="1402.6" y2="1224.9" stroke="#000" stroke-width="0.80" stroke-opacity="0.60"/>
<line x1="1406.3" y1="1207.7" x2="1406.3" y2="1224.9" stroke="#000" stroke-width="1.20" stroke-opacity="1.00"/>
<line x1="1410.7" y1="1207.7" x2="1410.7" y2="1224.9" stroke="#000" stroke-width="1.20" stroke-opacity="1.00"/>
<line x1="1415.4" y1="1207.7" x2="1415.4" y2="1224.9" stroke="#000" stroke-width="1.20" stroke-opacity="1.00"/>
<line x1="1421.2" y1="1207.7" x2="1421.2" y2="1224.9" stroke="#000" stroke-width="2.50" stroke-opacity="1.00"/>
<line x1="1426.3" y1="1207.7" x2="1426.3" y2="1224.9" stroke="#000" stroke-width="1.20" stroke-opacity="1.00"/>
<line x1="1431.5" y1="1207.7" x2="1431.5" y2="1224.9" stroke="#000" stroke-width="1.50" stroke-opacity="1.00"/>
<line x1="1434.9" y1="1207.7" x2="1434.9" y2="1224.9" stroke="#000" stroke-width="0.80" stroke-opacity="0.60"/>
<line x1="1436.5" y1="1207.7" x2="1436.5" y2="1224.9" stroke="#000" stroke-width="1.20" stroke-opacity="1.00"/>
<line x1="1441.5" y1="1207.7" x2="1441.5" y2="1224.9" stroke="#000" stroke-width="2.50" stroke-opacity="1.00"/>
<line x1="1446.7" y1="1207.7" x2="1446.7" y2="1224.9" stroke="#000" stroke-width="0.80" stroke-opacity="1.00"/>
<line x1="1450.6" y1="1207.7" x2="1450.6" y2="1224.9" stroke="#000" stroke-width="1.20" stroke-opacity="1.00"/>
<line x1="1453.2" y1="1207.7" x2="1453.2" y2="1224.9" stroke="#000" stroke-width="0.80" stroke-opacity="1.00"/>
<line x1="1467.8" y1="1207.7" x2="1467.8" y2="1224.9" stroke="#000" stroke-width="1.20" stroke-opacity="1.00"/>
<line x1="1469.8" y1="1207.7" x2="1469.8" y2="1224.9" stroke="#000" stroke-width="0.80" stroke-opacity="0.60"/>
<line x1="1474.2" y1="1207.7" x2="1474.2" y2="1224.9" stroke="#000" stroke-width="3.50" stroke-opacity="1.00"/>
<line x1="1481.0" y1="1207.7" x2="1481.0" y2="1224.9" stroke="#000" stroke-width="0.80" stroke-opacity="0.60"/>
<line x1="1482.6" y1="1207.7" x2="1482.6" y2="1224.9" stroke="#000" stroke-width="1.20" stroke-opacity="1.00"/>
<line x1="1485.4" y1="1207.7" x2="1485.4" y2="1224.9" stroke="#000" stroke-width="0.80" stroke-opacity="1.00"/>
<line x1="1492.0" y1="1207.7" x2="1492.0" y2="1224.9" stroke="#000" stroke-width="1.20" stroke-opacity="1.00"/>
<line x1="1499.6" y1="1207.7" x2="1499.6" y2="1224.9" stroke="#000" stroke-width="8.00" stroke-opacity="1.00"/>
<line x1="1506.9" y1="1207.7" x2="1506.9" y2="1224.9" stroke="#000" stroke-width="1.50" stroke-opacity="1.00"/>
<rect x="845.3" y="662.1" width="688.1" height="562.8" fill="none" stroke="#000" stroke-width="1.6"/>
<line x1="836.4" y1="755.7" x2="845.3" y2="755.7" stroke="#000" stroke-width="1.5"/>
<text transform="translate(825.5 755.7) rotate(-90)" text-anchor="middle">4</text>
<line x1="836.4" y1="895.1" x2="845.3" y2="895.1" stroke="#000" stroke-width="1.5"/>
<text transform="translate(825.5 895.1) rotate(-90)" text-anchor="middle">2</text>
<line x1="836.4" y1="1034.5" x2="845.3" y2="1034.5" stroke="#000" stroke-width="1.5"/>
<text transform="translate(825.5 1034.5) rotate(-90)" text-anchor="middle">0</text>
<line x1="836.4" y1="1173.9" x2="845.3" y2="1173.9" stroke="#000" stroke-width="1.5"/>
<text transform="translate(825.5 1173.9) rotate(-90)" text-anchor="middle">−2</text>
<line x1="896.2" y1="1224.9" x2="896.2" y2="1234.0" stroke="#000" stroke-width="1.5"/>
<text x="896.2" y="1253.6" text-anchor="middle">−3</text>
<line x1="1037.9" y1="1224.9" x2="1037.9" y2="1234.0" stroke="#000" stroke-width="1.5"/>
<text x="1037.9" y="1253.6" text-anchor="middle">−2</text>
<line x1="1179.7" y1="1224.9" x2="1179.7" y2="1234.0" stroke="#000" stroke-width="1.5"/>
<text x="1179.7" y="1253.6" text-anchor="middle">−1</text>
<line x1="1321.4" y1="1224.9" x2="1321.4" y2="1234.0" stroke="#000" stroke-width="1.5"/>
<text x="1321.4" y="1253.6" text-anchor="middle">0</text>
<line x1="1463.2" y1="1224.9" x2="1463.2" y2="1234.0" stroke="#000" stroke-width="1.5"/>
<text x="1463.2" y="1253.6" text-anchor="middle">1</text>
<text x="1189.3" y="1284.6" text-anchor="middle">Person−organization fit</text>
<text transform="translate(794.6 943.5) rotate(-90)" text-anchor="middle">s(Person−organization fit, 7.883) F=28.659***</text>
</g>
</svg>
</body></html>
